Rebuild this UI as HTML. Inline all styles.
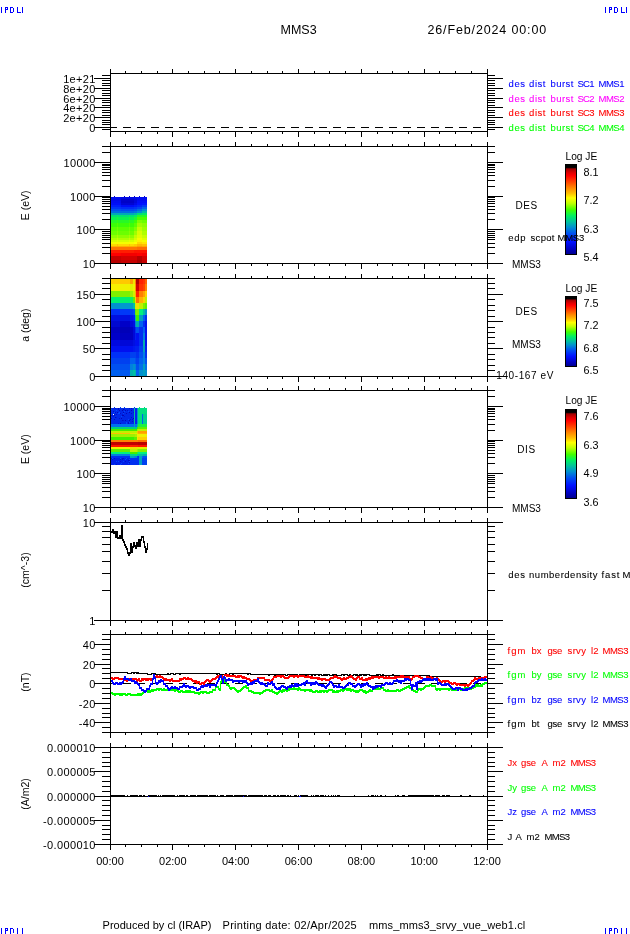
<!DOCTYPE html>
<html><head><meta charset="utf-8"><title>MMS3</title>
<style>html,body{margin:0;padding:0;background:#fff;overflow:hidden}svg{display:block;will-change:transform}text{font-family:"Liberation Sans",sans-serif}</style>
</head><body>
<svg width="630" height="934" viewBox="0 0 630 934" shape-rendering="crispEdges">
<rect x="0" y="0" width="630" height="934" fill="#fff"/>
<rect x="1" y="7" width="1" height="6" fill="#0000ff"/>
<rect x="5" y="7" width="1" height="6" fill="#0000ff"/>
<rect x="5" y="7" width="3" height="1" fill="#0000ff"/>
<rect x="7" y="7" width="1" height="3" fill="#0000ff"/>
<rect x="5" y="9" width="3" height="1" fill="#0000ff"/>
<rect x="10" y="7" width="1" height="6" fill="#0000ff"/>
<rect x="10" y="7" width="3" height="1" fill="#0000ff"/>
<rect x="13" y="8" width="1" height="4" fill="#0000ff"/>
<rect x="10" y="12" width="3" height="1" fill="#0000ff"/>
<rect x="17" y="7" width="1" height="6" fill="#0000ff"/>
<rect x="17" y="12" width="4" height="1" fill="#0000ff"/>
<rect x="22" y="7" width="1" height="6" fill="#0000ff"/>
<rect x="605" y="7" width="1" height="6" fill="#0000ff"/>
<rect x="609" y="7" width="1" height="6" fill="#0000ff"/>
<rect x="609" y="7" width="3" height="1" fill="#0000ff"/>
<rect x="611" y="7" width="1" height="3" fill="#0000ff"/>
<rect x="609" y="9" width="3" height="1" fill="#0000ff"/>
<rect x="614" y="7" width="1" height="6" fill="#0000ff"/>
<rect x="614" y="7" width="3" height="1" fill="#0000ff"/>
<rect x="617" y="8" width="1" height="4" fill="#0000ff"/>
<rect x="614" y="12" width="3" height="1" fill="#0000ff"/>
<rect x="621" y="7" width="1" height="6" fill="#0000ff"/>
<rect x="621" y="12" width="4" height="1" fill="#0000ff"/>
<rect x="626" y="7" width="1" height="6" fill="#0000ff"/>
<rect x="1" y="928" width="1" height="6" fill="#0000ff"/>
<rect x="5" y="928" width="1" height="6" fill="#0000ff"/>
<rect x="5" y="928" width="3" height="1" fill="#0000ff"/>
<rect x="7" y="928" width="1" height="3" fill="#0000ff"/>
<rect x="5" y="930" width="3" height="1" fill="#0000ff"/>
<rect x="10" y="928" width="1" height="6" fill="#0000ff"/>
<rect x="10" y="928" width="3" height="1" fill="#0000ff"/>
<rect x="13" y="929" width="1" height="4" fill="#0000ff"/>
<rect x="17" y="928" width="1" height="6" fill="#0000ff"/>
<rect x="22" y="928" width="1" height="6" fill="#0000ff"/>
<rect x="605" y="928" width="1" height="6" fill="#0000ff"/>
<rect x="609" y="928" width="1" height="6" fill="#0000ff"/>
<rect x="609" y="928" width="3" height="1" fill="#0000ff"/>
<rect x="611" y="928" width="1" height="3" fill="#0000ff"/>
<rect x="609" y="930" width="3" height="1" fill="#0000ff"/>
<rect x="614" y="928" width="1" height="6" fill="#0000ff"/>
<rect x="614" y="928" width="3" height="1" fill="#0000ff"/>
<rect x="617" y="929" width="1" height="4" fill="#0000ff"/>
<rect x="621" y="928" width="1" height="6" fill="#0000ff"/>
<rect x="626" y="928" width="1" height="6" fill="#0000ff"/>
<text x="280.5" y="33.7" font-size="12.5" font-family="&quot;Liberation Sans&quot;, sans-serif" fill="#000" text-anchor="start">MMS3</text>
<text x="427.5" y="33.7" font-size="12.5" font-family="&quot;Liberation Sans&quot;, sans-serif" fill="#000" text-anchor="start" letter-spacing="0.86">26/Feb/2024 00:00</text>
<rect x="111" y="197" width="10" height="2" fill="#000cf0"/>
<rect x="121" y="197" width="13" height="2" fill="#0008e1"/>
<rect x="134" y="197" width="3" height="2" fill="#000ae9"/>
<rect x="137" y="197" width="5" height="2" fill="#000cf0"/>
<rect x="142" y="197" width="5" height="2" fill="#000cf0"/>
<rect x="111" y="199" width="10" height="2" fill="#000ae9"/>
<rect x="121" y="199" width="13" height="2" fill="#0003cb"/>
<rect x="134" y="199" width="3" height="2" fill="#0007da"/>
<rect x="137" y="199" width="5" height="2" fill="#000cf0"/>
<rect x="142" y="199" width="5" height="2" fill="#000cf0"/>
<rect x="111" y="201" width="10" height="2" fill="#000cf0"/>
<rect x="121" y="201" width="13" height="2" fill="#0002c7"/>
<rect x="134" y="201" width="3" height="2" fill="#0007da"/>
<rect x="137" y="201" width="5" height="2" fill="#000ef8"/>
<rect x="142" y="201" width="5" height="2" fill="#000ef8"/>
<rect x="111" y="203" width="10" height="2" fill="#000ef8"/>
<rect x="121" y="203" width="13" height="2" fill="#0005d3"/>
<rect x="134" y="203" width="3" height="2" fill="#000ae9"/>
<rect x="137" y="203" width="5" height="2" fill="#0010ff"/>
<rect x="142" y="203" width="5" height="2" fill="#0017fd"/>
<rect x="111" y="205" width="10" height="2" fill="#001efc"/>
<rect x="121" y="205" width="13" height="2" fill="#000ef8"/>
<rect x="134" y="205" width="3" height="2" fill="#0017fd"/>
<rect x="137" y="205" width="5" height="2" fill="#0025fa"/>
<rect x="142" y="205" width="5" height="2" fill="#003bf5"/>
<rect x="111" y="207" width="10" height="2" fill="#0034f7"/>
<rect x="121" y="207" width="13" height="2" fill="#002cf8"/>
<rect x="134" y="207" width="3" height="2" fill="#0034f7"/>
<rect x="137" y="207" width="5" height="2" fill="#0042f3"/>
<rect x="142" y="207" width="5" height="2" fill="#0062e7"/>
<rect x="111" y="209" width="10" height="2" fill="#0050f0"/>
<rect x="121" y="209" width="13" height="2" fill="#0049f2"/>
<rect x="134" y="209" width="3" height="2" fill="#0050f0"/>
<rect x="137" y="209" width="5" height="2" fill="#006be2"/>
<rect x="142" y="209" width="5" height="2" fill="#0090d0"/>
<rect x="111" y="211" width="10" height="2" fill="#006be2"/>
<rect x="121" y="211" width="13" height="2" fill="#006be2"/>
<rect x="134" y="211" width="3" height="2" fill="#0075de"/>
<rect x="137" y="211" width="5" height="2" fill="#0090d0"/>
<rect x="142" y="211" width="5" height="2" fill="#00b8a8"/>
<rect x="111" y="213" width="10" height="2" fill="#00a8b8"/>
<rect x="121" y="213" width="13" height="2" fill="#00a8b8"/>
<rect x="134" y="213" width="3" height="2" fill="#00b8a8"/>
<rect x="137" y="213" width="5" height="2" fill="#00db7b"/>
<rect x="142" y="213" width="5" height="2" fill="#00e969"/>
<rect x="111" y="215" width="10" height="2" fill="#00e272"/>
<rect x="121" y="215" width="13" height="2" fill="#00e272"/>
<rect x="134" y="215" width="3" height="2" fill="#00f060"/>
<rect x="137" y="215" width="5" height="2" fill="#27f925"/>
<rect x="142" y="215" width="5" height="2" fill="#27f925"/>
<rect x="111" y="217" width="10" height="3" fill="#0af251"/>
<rect x="121" y="217" width="13" height="3" fill="#0af251"/>
<rect x="134" y="217" width="3" height="3" fill="#1ef734"/>
<rect x="137" y="217" width="5" height="3" fill="#49ff00"/>
<rect x="142" y="217" width="5" height="3" fill="#49ff00"/>
<rect x="111" y="220" width="10" height="3" fill="#27f925"/>
<rect x="121" y="220" width="13" height="3" fill="#27f925"/>
<rect x="134" y="220" width="3" height="3" fill="#3bfe07"/>
<rect x="137" y="220" width="5" height="3" fill="#7cff00"/>
<rect x="142" y="220" width="5" height="3" fill="#6bff00"/>
<rect x="111" y="223" width="10" height="4" fill="#3bfe07"/>
<rect x="121" y="223" width="13" height="4" fill="#3bfe07"/>
<rect x="134" y="223" width="3" height="4" fill="#5aff00"/>
<rect x="137" y="223" width="5" height="4" fill="#9eff00"/>
<rect x="142" y="223" width="5" height="4" fill="#8dff00"/>
<rect x="111" y="227" width="10" height="4" fill="#5aff00"/>
<rect x="121" y="227" width="13" height="4" fill="#5aff00"/>
<rect x="134" y="227" width="3" height="4" fill="#7cff00"/>
<rect x="137" y="227" width="5" height="4" fill="#c0ff00"/>
<rect x="142" y="227" width="5" height="4" fill="#9eff00"/>
<rect x="111" y="231" width="10" height="4" fill="#6bff00"/>
<rect x="121" y="231" width="13" height="4" fill="#6bff00"/>
<rect x="134" y="231" width="3" height="4" fill="#9eff00"/>
<rect x="137" y="231" width="5" height="4" fill="#d5ff00"/>
<rect x="142" y="231" width="5" height="4" fill="#afff00"/>
<rect x="111" y="235" width="10" height="3" fill="#8dff00"/>
<rect x="121" y="235" width="13" height="3" fill="#8dff00"/>
<rect x="134" y="235" width="3" height="3" fill="#c0ff00"/>
<rect x="137" y="235" width="5" height="3" fill="#e0ff00"/>
<rect x="142" y="235" width="5" height="3" fill="#caff00"/>
<rect x="111" y="238" width="10" height="2" fill="#afff00"/>
<rect x="121" y="238" width="13" height="2" fill="#afff00"/>
<rect x="134" y="238" width="3" height="2" fill="#d5ff00"/>
<rect x="137" y="238" width="5" height="2" fill="#f4ff00"/>
<rect x="142" y="238" width="5" height="2" fill="#e0ff00"/>
<rect x="111" y="240" width="10" height="2" fill="#d5ff00"/>
<rect x="121" y="240" width="13" height="2" fill="#d5ff00"/>
<rect x="134" y="240" width="3" height="2" fill="#eaff00"/>
<rect x="137" y="240" width="5" height="2" fill="#fff200"/>
<rect x="142" y="240" width="5" height="2" fill="#f4ff00"/>
<rect x="111" y="242" width="10" height="2" fill="#f4ff00"/>
<rect x="121" y="242" width="13" height="2" fill="#f4ff00"/>
<rect x="134" y="242" width="3" height="2" fill="#ffff00"/>
<rect x="137" y="242" width="5" height="2" fill="#ffd900"/>
<rect x="142" y="242" width="5" height="2" fill="#ffe600"/>
<rect x="111" y="244" width="10" height="2" fill="#ffd900"/>
<rect x="121" y="244" width="13" height="2" fill="#ffd900"/>
<rect x="134" y="244" width="3" height="2" fill="#ffcd00"/>
<rect x="137" y="244" width="5" height="2" fill="#ffb700"/>
<rect x="142" y="244" width="5" height="2" fill="#ffc000"/>
<rect x="111" y="246" width="10" height="1" fill="#ffae00"/>
<rect x="121" y="246" width="13" height="1" fill="#ffae00"/>
<rect x="134" y="246" width="3" height="1" fill="#ffae00"/>
<rect x="137" y="246" width="5" height="1" fill="#ff9b00"/>
<rect x="142" y="246" width="5" height="1" fill="#ffa500"/>
<rect x="111" y="247" width="10" height="3" fill="#ff7600"/>
<rect x="121" y="247" width="13" height="3" fill="#ff7600"/>
<rect x="134" y="247" width="3" height="3" fill="#ff7600"/>
<rect x="137" y="247" width="5" height="3" fill="#ff6c00"/>
<rect x="142" y="247" width="5" height="3" fill="#ff6c00"/>
<rect x="111" y="250" width="10" height="3" fill="#ff1d00"/>
<rect x="121" y="250" width="13" height="3" fill="#ff1d00"/>
<rect x="134" y="250" width="3" height="3" fill="#ff1300"/>
<rect x="137" y="250" width="5" height="3" fill="#ff1300"/>
<rect x="142" y="250" width="5" height="3" fill="#ff1300"/>
<rect x="111" y="253" width="10" height="3" fill="#ff0000"/>
<rect x="121" y="253" width="13" height="3" fill="#f50000"/>
<rect x="134" y="253" width="3" height="3" fill="#f50000"/>
<rect x="137" y="253" width="5" height="3" fill="#ff0000"/>
<rect x="142" y="253" width="5" height="3" fill="#f50000"/>
<rect x="111" y="256" width="10" height="4" fill="#c60000"/>
<rect x="121" y="256" width="13" height="4" fill="#d40000"/>
<rect x="134" y="256" width="3" height="4" fill="#d40000"/>
<rect x="137" y="256" width="5" height="4" fill="#b70000"/>
<rect x="142" y="256" width="5" height="4" fill="#d40000"/>
<rect x="111" y="260" width="10" height="3" fill="#b70000"/>
<rect x="121" y="260" width="13" height="3" fill="#c60000"/>
<rect x="134" y="260" width="3" height="3" fill="#c60000"/>
<rect x="137" y="260" width="5" height="3" fill="#a90000"/>
<rect x="142" y="260" width="5" height="3" fill="#c60000"/>
<rect x="117" y="215" width="1" height="2" fill="#00ed65"/>
<rect x="117" y="217" width="1" height="3" fill="#19f63b"/>
<rect x="117" y="220" width="1" height="3" fill="#36fd0f"/>
<rect x="117" y="223" width="1" height="4" fill="#51ff00"/>
<rect x="117" y="227" width="1" height="4" fill="#73ff00"/>
<rect x="117" y="231" width="1" height="4" fill="#84ff00"/>
<rect x="117" y="235" width="1" height="3" fill="#a6ff00"/>
<rect x="117" y="238" width="1" height="2" fill="#c5ff00"/>
<rect x="117" y="240" width="1" height="2" fill="#e5ff00"/>
<rect x="117" y="242" width="1" height="2" fill="#fff900"/>
<rect x="117" y="244" width="1" height="2" fill="#ffc600"/>
<rect x="129" y="215" width="1" height="2" fill="#00ed65"/>
<rect x="129" y="217" width="1" height="3" fill="#19f63b"/>
<rect x="129" y="220" width="1" height="3" fill="#36fd0f"/>
<rect x="129" y="223" width="1" height="4" fill="#51ff00"/>
<rect x="129" y="227" width="1" height="4" fill="#73ff00"/>
<rect x="129" y="231" width="1" height="4" fill="#84ff00"/>
<rect x="129" y="235" width="1" height="3" fill="#a6ff00"/>
<rect x="129" y="238" width="1" height="2" fill="#c5ff00"/>
<rect x="129" y="240" width="1" height="2" fill="#e5ff00"/>
<rect x="129" y="242" width="1" height="2" fill="#fff900"/>
<rect x="129" y="244" width="1" height="2" fill="#ffc600"/>
<rect x="114" y="196" width="1" height="1" fill="#0000d0"/>
<rect x="124" y="196" width="1" height="1" fill="#0000d0"/>
<rect x="129" y="196" width="1" height="1" fill="#0000d0"/>
<rect x="134" y="196" width="1" height="1" fill="#0000d0"/>
<rect x="139" y="196" width="1" height="1" fill="#0000d0"/>
<rect x="144" y="196" width="1" height="1" fill="#0000d0"/>
<rect x="111" y="279" width="9" height="5" fill="#ffd000"/>
<rect x="120" y="279" width="10" height="5" fill="#ffc800"/>
<rect x="130" y="279" width="3" height="5" fill="#ffa000"/>
<rect x="133" y="279" width="2" height="5" fill="#f0e000"/>
<rect x="135" y="279" width="1" height="5" fill="#ff8000"/>
<rect x="136" y="279" width="3" height="5" fill="#b00000"/>
<rect x="139" y="279" width="4" height="5" fill="#ff2000"/>
<rect x="143" y="279" width="2" height="5" fill="#ff3000"/>
<rect x="145" y="279" width="2" height="5" fill="#ff6000"/>
<rect x="111" y="284" width="9" height="7" fill="#f8f000"/>
<rect x="120" y="284" width="10" height="7" fill="#f0f000"/>
<rect x="130" y="284" width="3" height="7" fill="#e0f000"/>
<rect x="133" y="284" width="2" height="7" fill="#f0f000"/>
<rect x="135" y="284" width="1" height="7" fill="#ff9000"/>
<rect x="136" y="284" width="3" height="7" fill="#d00000"/>
<rect x="139" y="284" width="4" height="7" fill="#ff3000"/>
<rect x="143" y="284" width="2" height="7" fill="#ff4000"/>
<rect x="145" y="284" width="2" height="7" fill="#ff8000"/>
<rect x="111" y="291" width="9" height="6" fill="#80f000"/>
<rect x="120" y="291" width="10" height="6" fill="#80f000"/>
<rect x="130" y="291" width="3" height="6" fill="#a0f000"/>
<rect x="133" y="291" width="2" height="6" fill="#d0f000"/>
<rect x="135" y="291" width="1" height="6" fill="#ffb000"/>
<rect x="136" y="291" width="3" height="6" fill="#ff2000"/>
<rect x="139" y="291" width="4" height="6" fill="#ff8000"/>
<rect x="143" y="291" width="2" height="6" fill="#ffa000"/>
<rect x="145" y="291" width="2" height="6" fill="#ffd000"/>
<rect x="111" y="297" width="9" height="6" fill="#00f070"/>
<rect x="120" y="297" width="10" height="6" fill="#00f070"/>
<rect x="130" y="297" width="3" height="6" fill="#10f060"/>
<rect x="133" y="297" width="2" height="6" fill="#60f000"/>
<rect x="135" y="297" width="1" height="6" fill="#ffd000"/>
<rect x="136" y="297" width="3" height="6" fill="#ff7000"/>
<rect x="139" y="297" width="4" height="6" fill="#ffb000"/>
<rect x="143" y="297" width="2" height="6" fill="#ffd000"/>
<rect x="145" y="297" width="2" height="6" fill="#c0f000"/>
<rect x="111" y="303" width="9" height="6" fill="#0090d0"/>
<rect x="120" y="303" width="10" height="6" fill="#0098d0"/>
<rect x="130" y="303" width="3" height="6" fill="#00a0c0"/>
<rect x="133" y="303" width="2" height="6" fill="#00c0a0"/>
<rect x="135" y="303" width="1" height="6" fill="#d0f000"/>
<rect x="136" y="303" width="3" height="6" fill="#f0e000"/>
<rect x="139" y="303" width="4" height="6" fill="#c0f000"/>
<rect x="143" y="303" width="2" height="6" fill="#80f000"/>
<rect x="145" y="303" width="2" height="6" fill="#60f000"/>
<rect x="111" y="309" width="9" height="6" fill="#0030f8"/>
<rect x="120" y="309" width="10" height="6" fill="#0038f8"/>
<rect x="130" y="309" width="3" height="6" fill="#0040f0"/>
<rect x="133" y="309" width="2" height="6" fill="#0050f0"/>
<rect x="135" y="309" width="1" height="6" fill="#60f000"/>
<rect x="136" y="309" width="3" height="6" fill="#80f000"/>
<rect x="139" y="309" width="4" height="6" fill="#00f080"/>
<rect x="143" y="309" width="2" height="6" fill="#00c0a0"/>
<rect x="145" y="309" width="2" height="6" fill="#0090d0"/>
<rect x="111" y="315" width="9" height="6" fill="#0010e0"/>
<rect x="120" y="315" width="10" height="6" fill="#0010e0"/>
<rect x="130" y="315" width="3" height="6" fill="#0018e8"/>
<rect x="133" y="315" width="2" height="6" fill="#0020f0"/>
<rect x="135" y="315" width="1" height="6" fill="#00c0a0"/>
<rect x="136" y="315" width="3" height="6" fill="#40f000"/>
<rect x="139" y="315" width="4" height="6" fill="#00a0c0"/>
<rect x="143" y="315" width="2" height="6" fill="#0060f0"/>
<rect x="145" y="315" width="2" height="6" fill="#0030f0"/>
<rect x="111" y="321" width="9" height="6" fill="#0008d0"/>
<rect x="120" y="321" width="10" height="6" fill="#0000c8"/>
<rect x="130" y="321" width="3" height="6" fill="#0008d8"/>
<rect x="133" y="321" width="2" height="6" fill="#0010e0"/>
<rect x="135" y="321" width="1" height="6" fill="#0080e0"/>
<rect x="136" y="321" width="3" height="6" fill="#00b0b0"/>
<rect x="139" y="321" width="4" height="6" fill="#0060f0"/>
<rect x="143" y="321" width="2" height="6" fill="#0030f0"/>
<rect x="145" y="321" width="2" height="6" fill="#0010f0"/>
<rect x="111" y="327" width="9" height="6" fill="#0000c0"/>
<rect x="120" y="327" width="10" height="6" fill="#0000b8"/>
<rect x="130" y="327" width="3" height="6" fill="#0000c0"/>
<rect x="133" y="327" width="2" height="6" fill="#0008d8"/>
<rect x="135" y="327" width="1" height="6" fill="#0030f0"/>
<rect x="136" y="327" width="3" height="6" fill="#0050f0"/>
<rect x="139" y="327" width="4" height="6" fill="#0030f0"/>
<rect x="143" y="327" width="2" height="6" fill="#0060f0"/>
<rect x="145" y="327" width="2" height="6" fill="#0010f0"/>
<rect x="111" y="333" width="9" height="7" fill="#0000c8"/>
<rect x="120" y="333" width="10" height="7" fill="#0000c0"/>
<rect x="130" y="333" width="3" height="7" fill="#0000c0"/>
<rect x="133" y="333" width="2" height="7" fill="#0008d8"/>
<rect x="135" y="333" width="1" height="7" fill="#0020f0"/>
<rect x="136" y="333" width="3" height="7" fill="#0010f0"/>
<rect x="139" y="333" width="4" height="7" fill="#0030f0"/>
<rect x="143" y="333" width="2" height="7" fill="#0080e0"/>
<rect x="145" y="333" width="2" height="7" fill="#0010f0"/>
<rect x="111" y="340" width="9" height="6" fill="#0008e0"/>
<rect x="120" y="340" width="10" height="6" fill="#0008d8"/>
<rect x="130" y="340" width="3" height="6" fill="#0008d8"/>
<rect x="133" y="340" width="2" height="6" fill="#0010e0"/>
<rect x="135" y="340" width="1" height="6" fill="#0010f0"/>
<rect x="136" y="340" width="3" height="6" fill="#0010f0"/>
<rect x="139" y="340" width="4" height="6" fill="#0030f0"/>
<rect x="143" y="340" width="2" height="6" fill="#00b0b0"/>
<rect x="145" y="340" width="2" height="6" fill="#0010f0"/>
<rect x="111" y="346" width="9" height="6" fill="#0010f0"/>
<rect x="120" y="346" width="10" height="6" fill="#0010f0"/>
<rect x="130" y="346" width="3" height="6" fill="#0010f0"/>
<rect x="133" y="346" width="2" height="6" fill="#0018f0"/>
<rect x="135" y="346" width="1" height="6" fill="#0020f0"/>
<rect x="136" y="346" width="3" height="6" fill="#0020f0"/>
<rect x="139" y="346" width="4" height="6" fill="#0040f0"/>
<rect x="143" y="346" width="2" height="6" fill="#00a0c0"/>
<rect x="145" y="346" width="2" height="6" fill="#0020f0"/>
<rect x="111" y="352" width="9" height="6" fill="#0030f8"/>
<rect x="120" y="352" width="10" height="6" fill="#0030f8"/>
<rect x="130" y="352" width="3" height="6" fill="#0040f0"/>
<rect x="133" y="352" width="2" height="6" fill="#0040f0"/>
<rect x="135" y="352" width="1" height="6" fill="#0040f0"/>
<rect x="136" y="352" width="3" height="6" fill="#0030f0"/>
<rect x="139" y="352" width="4" height="6" fill="#0050f0"/>
<rect x="143" y="352" width="2" height="6" fill="#0080e0"/>
<rect x="145" y="352" width="2" height="6" fill="#0030f0"/>
<rect x="111" y="358" width="9" height="6" fill="#0040f0"/>
<rect x="120" y="358" width="10" height="6" fill="#0040f0"/>
<rect x="130" y="358" width="3" height="6" fill="#0060f0"/>
<rect x="133" y="358" width="2" height="6" fill="#0060f0"/>
<rect x="135" y="358" width="1" height="6" fill="#0050f0"/>
<rect x="136" y="358" width="3" height="6" fill="#0040f0"/>
<rect x="139" y="358" width="4" height="6" fill="#0060f0"/>
<rect x="143" y="358" width="2" height="6" fill="#0080e0"/>
<rect x="145" y="358" width="2" height="6" fill="#0050f0"/>
<rect x="111" y="364" width="9" height="6" fill="#0050f0"/>
<rect x="120" y="364" width="10" height="6" fill="#0050f0"/>
<rect x="130" y="364" width="3" height="6" fill="#0080e0"/>
<rect x="133" y="364" width="2" height="6" fill="#0090d0"/>
<rect x="135" y="364" width="1" height="6" fill="#0080e0"/>
<rect x="136" y="364" width="3" height="6" fill="#0050f0"/>
<rect x="139" y="364" width="4" height="6" fill="#0070e8"/>
<rect x="143" y="364" width="2" height="6" fill="#00a0c0"/>
<rect x="145" y="364" width="2" height="6" fill="#0070e8"/>
<rect x="111" y="370" width="9" height="6" fill="#0060f0"/>
<rect x="120" y="370" width="10" height="6" fill="#0058f0"/>
<rect x="130" y="370" width="3" height="6" fill="#00b0b0"/>
<rect x="133" y="370" width="2" height="6" fill="#00c0a0"/>
<rect x="135" y="370" width="1" height="6" fill="#00b0b0"/>
<rect x="136" y="370" width="3" height="6" fill="#0060f0"/>
<rect x="139" y="370" width="4" height="6" fill="#0090d0"/>
<rect x="143" y="370" width="2" height="6" fill="#00a0c0"/>
<rect x="145" y="370" width="2" height="6" fill="#0090d0"/>
<rect x="111" y="408" width="19" height="6" fill="#0028e8"/>
<rect x="130" y="408" width="4" height="6" fill="#0028e8"/>
<rect x="134" y="408" width="1" height="6" fill="#00c0a0"/>
<rect x="135" y="408" width="2" height="6" fill="#0020f0"/>
<rect x="137" y="408" width="1" height="6" fill="#0090d0"/>
<rect x="138" y="408" width="4" height="6" fill="#00e080"/>
<rect x="142" y="408" width="1" height="6" fill="#00e080"/>
<rect x="143" y="408" width="4" height="6" fill="#00e080"/>
<rect x="111" y="414" width="19" height="10" fill="#0028e8"/>
<rect x="130" y="414" width="4" height="10" fill="#0028e8"/>
<rect x="134" y="414" width="1" height="10" fill="#00c0a0"/>
<rect x="135" y="414" width="2" height="10" fill="#0020f0"/>
<rect x="137" y="414" width="1" height="10" fill="#0090d0"/>
<rect x="138" y="414" width="4" height="10" fill="#00e080"/>
<rect x="142" y="414" width="1" height="10" fill="#0060f0"/>
<rect x="143" y="414" width="4" height="10" fill="#00d090"/>
<rect x="111" y="424" width="19" height="3" fill="#0070f0"/>
<rect x="130" y="424" width="4" height="3" fill="#0070f0"/>
<rect x="134" y="424" width="1" height="3" fill="#00a0c0"/>
<rect x="135" y="424" width="2" height="3" fill="#0070f0"/>
<rect x="137" y="424" width="1" height="3" fill="#00c0a0"/>
<rect x="138" y="424" width="4" height="3" fill="#20f040"/>
<rect x="142" y="424" width="1" height="3" fill="#20f040"/>
<rect x="143" y="424" width="4" height="3" fill="#20f040"/>
<rect x="111" y="427" width="19" height="2" fill="#00d080"/>
<rect x="130" y="427" width="4" height="2" fill="#00d080"/>
<rect x="134" y="427" width="1" height="2" fill="#00d080"/>
<rect x="135" y="427" width="2" height="2" fill="#00c0a0"/>
<rect x="137" y="427" width="1" height="2" fill="#40f000"/>
<rect x="138" y="427" width="4" height="2" fill="#60f000"/>
<rect x="142" y="427" width="1" height="2" fill="#60f000"/>
<rect x="143" y="427" width="4" height="2" fill="#60f000"/>
<rect x="111" y="429" width="19" height="2" fill="#40f000"/>
<rect x="130" y="429" width="4" height="2" fill="#40f000"/>
<rect x="134" y="429" width="1" height="2" fill="#40f000"/>
<rect x="135" y="429" width="2" height="2" fill="#40f000"/>
<rect x="137" y="429" width="1" height="2" fill="#a0f000"/>
<rect x="138" y="429" width="4" height="2" fill="#c0f000"/>
<rect x="142" y="429" width="1" height="2" fill="#c0f000"/>
<rect x="143" y="429" width="4" height="2" fill="#c0f000"/>
<rect x="111" y="431" width="19" height="2" fill="#c0f000"/>
<rect x="130" y="431" width="4" height="2" fill="#c0f000"/>
<rect x="134" y="431" width="1" height="2" fill="#c0f000"/>
<rect x="135" y="431" width="2" height="2" fill="#c0f000"/>
<rect x="137" y="431" width="1" height="2" fill="#ffc000"/>
<rect x="138" y="431" width="4" height="2" fill="#ffa000"/>
<rect x="142" y="431" width="1" height="2" fill="#ffa000"/>
<rect x="143" y="431" width="4" height="2" fill="#ffa000"/>
<rect x="111" y="433" width="19" height="1" fill="#ffc000"/>
<rect x="130" y="433" width="4" height="1" fill="#f0e000"/>
<rect x="134" y="433" width="1" height="1" fill="#e0f000"/>
<rect x="135" y="433" width="2" height="1" fill="#e0f000"/>
<rect x="137" y="433" width="1" height="1" fill="#ffd000"/>
<rect x="138" y="433" width="4" height="1" fill="#ffb000"/>
<rect x="142" y="433" width="1" height="1" fill="#ffb000"/>
<rect x="143" y="433" width="4" height="1" fill="#ffb000"/>
<rect x="111" y="434" width="19" height="3" fill="#a0f000"/>
<rect x="130" y="434" width="4" height="3" fill="#a0f000"/>
<rect x="134" y="434" width="1" height="3" fill="#a0f000"/>
<rect x="135" y="434" width="2" height="3" fill="#b0f000"/>
<rect x="137" y="434" width="1" height="3" fill="#f0f000"/>
<rect x="138" y="434" width="4" height="3" fill="#f0f000"/>
<rect x="142" y="434" width="1" height="3" fill="#f0f000"/>
<rect x="143" y="434" width="4" height="3" fill="#f0f000"/>
<rect x="111" y="437" width="19" height="3" fill="#40f000"/>
<rect x="130" y="437" width="4" height="3" fill="#40f000"/>
<rect x="134" y="437" width="1" height="3" fill="#60f000"/>
<rect x="135" y="437" width="2" height="3" fill="#60f000"/>
<rect x="137" y="437" width="1" height="3" fill="#ffe000"/>
<rect x="138" y="437" width="4" height="3" fill="#ffd000"/>
<rect x="142" y="437" width="1" height="3" fill="#ffd000"/>
<rect x="143" y="437" width="4" height="3" fill="#ffd000"/>
<rect x="111" y="440" width="19" height="2" fill="#ff8000"/>
<rect x="130" y="440" width="4" height="2" fill="#ff8000"/>
<rect x="134" y="440" width="1" height="2" fill="#ff8000"/>
<rect x="135" y="440" width="2" height="2" fill="#ff8000"/>
<rect x="137" y="440" width="1" height="2" fill="#ff8000"/>
<rect x="138" y="440" width="4" height="2" fill="#ff7000"/>
<rect x="142" y="440" width="1" height="2" fill="#ff7000"/>
<rect x="143" y="440" width="4" height="2" fill="#ff7000"/>
<rect x="111" y="442" width="19" height="3" fill="#c00000"/>
<rect x="130" y="442" width="4" height="3" fill="#c00000"/>
<rect x="134" y="442" width="1" height="3" fill="#c00000"/>
<rect x="135" y="442" width="2" height="3" fill="#c00000"/>
<rect x="137" y="442" width="1" height="3" fill="#c00000"/>
<rect x="138" y="442" width="4" height="3" fill="#b80000"/>
<rect x="142" y="442" width="1" height="3" fill="#b80000"/>
<rect x="143" y="442" width="4" height="3" fill="#b80000"/>
<rect x="111" y="445" width="19" height="2" fill="#ff1000"/>
<rect x="130" y="445" width="4" height="2" fill="#ff2000"/>
<rect x="134" y="445" width="1" height="2" fill="#ff2000"/>
<rect x="135" y="445" width="2" height="2" fill="#ff2000"/>
<rect x="137" y="445" width="1" height="2" fill="#ff2000"/>
<rect x="138" y="445" width="4" height="2" fill="#ff1000"/>
<rect x="142" y="445" width="1" height="2" fill="#ff1000"/>
<rect x="143" y="445" width="4" height="2" fill="#ff1000"/>
<rect x="111" y="447" width="19" height="2" fill="#f0f000"/>
<rect x="130" y="447" width="4" height="2" fill="#f0e000"/>
<rect x="134" y="447" width="1" height="2" fill="#f0e000"/>
<rect x="135" y="447" width="2" height="2" fill="#f0e000"/>
<rect x="137" y="447" width="1" height="2" fill="#e0f000"/>
<rect x="138" y="447" width="4" height="2" fill="#e0f000"/>
<rect x="142" y="447" width="1" height="2" fill="#e0f000"/>
<rect x="143" y="447" width="4" height="2" fill="#e0f000"/>
<rect x="111" y="449" width="19" height="3" fill="#60f000"/>
<rect x="130" y="449" width="4" height="3" fill="#c0f000"/>
<rect x="134" y="449" width="1" height="3" fill="#c0f000"/>
<rect x="135" y="449" width="2" height="3" fill="#c0f000"/>
<rect x="137" y="449" width="1" height="3" fill="#a0f000"/>
<rect x="138" y="449" width="4" height="3" fill="#80f000"/>
<rect x="142" y="449" width="1" height="3" fill="#80f000"/>
<rect x="143" y="449" width="4" height="3" fill="#80f000"/>
<rect x="111" y="452" width="19" height="2" fill="#00f080"/>
<rect x="130" y="452" width="4" height="2" fill="#40f000"/>
<rect x="134" y="452" width="1" height="2" fill="#40f000"/>
<rect x="135" y="452" width="2" height="2" fill="#40f000"/>
<rect x="137" y="452" width="1" height="2" fill="#20f040"/>
<rect x="138" y="452" width="4" height="2" fill="#00f080"/>
<rect x="142" y="452" width="1" height="2" fill="#00f080"/>
<rect x="143" y="452" width="4" height="2" fill="#00f080"/>
<rect x="111" y="454" width="19" height="2" fill="#0080e0"/>
<rect x="130" y="454" width="4" height="2" fill="#00d090"/>
<rect x="134" y="454" width="1" height="2" fill="#00d090"/>
<rect x="135" y="454" width="2" height="2" fill="#00e070"/>
<rect x="137" y="454" width="1" height="2" fill="#00c0a0"/>
<rect x="138" y="454" width="4" height="2" fill="#00c0a0"/>
<rect x="142" y="454" width="1" height="2" fill="#00c0a0"/>
<rect x="143" y="454" width="4" height="2" fill="#00b0b0"/>
<rect x="111" y="456" width="19" height="2" fill="#0030f0"/>
<rect x="130" y="456" width="4" height="2" fill="#00a0c0"/>
<rect x="134" y="456" width="1" height="2" fill="#0090d0"/>
<rect x="135" y="456" width="2" height="2" fill="#0080e0"/>
<rect x="137" y="456" width="1" height="2" fill="#0040f0"/>
<rect x="138" y="456" width="4" height="2" fill="#00a0c0"/>
<rect x="142" y="456" width="1" height="2" fill="#0060f0"/>
<rect x="143" y="456" width="4" height="2" fill="#0050f0"/>
<rect x="111" y="458" width="19" height="7" fill="#0020e8"/>
<rect x="130" y="458" width="4" height="7" fill="#0030f0"/>
<rect x="134" y="458" width="1" height="7" fill="#0030f0"/>
<rect x="135" y="458" width="2" height="7" fill="#0030f0"/>
<rect x="137" y="458" width="1" height="7" fill="#0030f0"/>
<rect x="138" y="458" width="4" height="7" fill="#00a0c0"/>
<rect x="142" y="458" width="1" height="7" fill="#0040f0"/>
<rect x="143" y="458" width="4" height="7" fill="#0040f0"/>
<rect x="138" y="456" width="1" height="9" fill="#0030f0"/>
<rect x="124" y="411" width="1" height="1" fill="#0048ff"/>
<rect x="123" y="415" width="1" height="1" fill="#0008b8"/>
<rect x="111" y="415" width="1" height="1" fill="#0010c8"/>
<rect x="129" y="408" width="1" height="1" fill="#0010c8"/>
<rect x="116" y="417" width="1" height="1" fill="#0018d8"/>
<rect x="129" y="420" width="1" height="1" fill="#0008b8"/>
<rect x="122" y="410" width="1" height="1" fill="#0008b8"/>
<rect x="120" y="413" width="1" height="1" fill="#0010c8"/>
<rect x="127" y="410" width="1" height="1" fill="#0010c8"/>
<rect x="119" y="418" width="1" height="1" fill="#0010c8"/>
<rect x="131" y="417" width="1" height="1" fill="#0010c8"/>
<rect x="122" y="420" width="1" height="1" fill="#0010c8"/>
<rect x="126" y="423" width="1" height="1" fill="#0048ff"/>
<rect x="117" y="412" width="1" height="1" fill="#0008b8"/>
<rect x="118" y="409" width="1" height="1" fill="#0010c8"/>
<rect x="132" y="421" width="1" height="1" fill="#0010c8"/>
<rect x="133" y="418" width="1" height="1" fill="#0008b8"/>
<rect x="126" y="422" width="1" height="1" fill="#0048ff"/>
<rect x="118" y="423" width="1" height="1" fill="#0018d8"/>
<rect x="132" y="419" width="1" height="1" fill="#0010c8"/>
<rect x="119" y="413" width="1" height="1" fill="#0010c8"/>
<rect x="118" y="408" width="1" height="1" fill="#0008b8"/>
<rect x="122" y="414" width="1" height="1" fill="#0018d8"/>
<rect x="114" y="419" width="1" height="1" fill="#0008b8"/>
<rect x="114" y="415" width="1" height="1" fill="#0010c8"/>
<rect x="124" y="409" width="1" height="1" fill="#0018d8"/>
<rect x="114" y="412" width="1" height="1" fill="#0048ff"/>
<rect x="131" y="408" width="1" height="1" fill="#0008b8"/>
<rect x="131" y="410" width="1" height="1" fill="#0008b8"/>
<rect x="113" y="408" width="1" height="1" fill="#0018d8"/>
<rect x="119" y="413" width="1" height="1" fill="#0048ff"/>
<rect x="112" y="416" width="1" height="1" fill="#0018d8"/>
<rect x="119" y="410" width="1" height="1" fill="#0008b8"/>
<rect x="128" y="423" width="1" height="1" fill="#0010c8"/>
<rect x="120" y="423" width="1" height="1" fill="#0008b8"/>
<rect x="123" y="420" width="1" height="1" fill="#0008b8"/>
<rect x="128" y="422" width="1" height="1" fill="#0010c8"/>
<rect x="121" y="416" width="1" height="1" fill="#0048ff"/>
<rect x="115" y="412" width="1" height="1" fill="#0010c8"/>
<rect x="125" y="420" width="1" height="1" fill="#0008b8"/>
<rect x="125" y="410" width="1" height="1" fill="#0008b8"/>
<rect x="129" y="412" width="1" height="1" fill="#0008b8"/>
<rect x="128" y="419" width="1" height="1" fill="#0048ff"/>
<rect x="112" y="415" width="1" height="1" fill="#0018d8"/>
<rect x="113" y="416" width="1" height="1" fill="#0018d8"/>
<rect x="133" y="412" width="1" height="1" fill="#0018d8"/>
<rect x="119" y="412" width="1" height="1" fill="#0048ff"/>
<rect x="130" y="419" width="1" height="1" fill="#0010c8"/>
<rect x="121" y="418" width="1" height="1" fill="#0018d8"/>
<rect x="115" y="408" width="1" height="1" fill="#0010c8"/>
<rect x="123" y="420" width="1" height="1" fill="#0018d8"/>
<rect x="129" y="422" width="1" height="1" fill="#0048ff"/>
<rect x="118" y="413" width="1" height="1" fill="#0048ff"/>
<rect x="111" y="418" width="1" height="1" fill="#0008b8"/>
<rect x="111" y="414" width="1" height="1" fill="#0048ff"/>
<rect x="116" y="414" width="1" height="1" fill="#0010c8"/>
<rect x="113" y="411" width="1" height="1" fill="#0010c8"/>
<rect x="123" y="409" width="1" height="1" fill="#0008b8"/>
<rect x="123" y="412" width="1" height="1" fill="#0008b8"/>
<rect x="131" y="413" width="1" height="1" fill="#0010c8"/>
<rect x="121" y="418" width="1" height="1" fill="#0008b8"/>
<rect x="111" y="409" width="1" height="1" fill="#0048ff"/>
<rect x="114" y="414" width="1" height="1" fill="#0010c8"/>
<rect x="116" y="410" width="1" height="1" fill="#0048ff"/>
<rect x="128" y="411" width="1" height="1" fill="#0048ff"/>
<rect x="124" y="416" width="1" height="1" fill="#0018d8"/>
<rect x="122" y="415" width="1" height="1" fill="#0008b8"/>
<rect x="115" y="417" width="1" height="1" fill="#0008b8"/>
<rect x="123" y="413" width="1" height="1" fill="#0048ff"/>
<rect x="126" y="413" width="1" height="1" fill="#0008b8"/>
<rect x="125" y="461" width="1" height="1" fill="#0048ff"/>
<rect x="120" y="464" width="1" height="1" fill="#0048ff"/>
<rect x="129" y="461" width="1" height="1" fill="#0048ff"/>
<rect x="123" y="461" width="1" height="1" fill="#0048ff"/>
<rect x="114" y="464" width="1" height="1" fill="#0048ff"/>
<rect x="129" y="459" width="1" height="1" fill="#0048ff"/>
<rect x="118" y="461" width="1" height="1" fill="#0010c8"/>
<rect x="122" y="458" width="1" height="1" fill="#0048ff"/>
<rect x="118" y="461" width="1" height="1" fill="#0048ff"/>
<rect x="120" y="458" width="1" height="1" fill="#0048ff"/>
<rect x="128" y="463" width="1" height="1" fill="#0048ff"/>
<rect x="114" y="458" width="1" height="1" fill="#0010c8"/>
<rect x="128" y="460" width="1" height="1" fill="#0010c8"/>
<rect x="116" y="464" width="1" height="1" fill="#0010c8"/>
<rect x="121" y="463" width="1" height="1" fill="#0048ff"/>
<rect x="125" y="461" width="1" height="1" fill="#0010c8"/>
<rect x="129" y="462" width="1" height="1" fill="#0010c8"/>
<rect x="120" y="459" width="1" height="1" fill="#0010c8"/>
<rect x="129" y="460" width="1" height="1" fill="#0010c8"/>
<rect x="122" y="459" width="1" height="1" fill="#0010c8"/>
<rect x="126" y="458" width="1" height="1" fill="#0010c8"/>
<rect x="120" y="461" width="1" height="1" fill="#0010c8"/>
<rect x="116" y="461" width="1" height="1" fill="#0048ff"/>
<rect x="112" y="459" width="1" height="1" fill="#0010c8"/>
<rect x="122" y="458" width="1" height="1" fill="#0010c8"/>
<rect x="112" y="458" width="1" height="1" fill="#0048ff"/>
<rect x="126" y="458" width="1" height="1" fill="#0048ff"/>
<rect x="125" y="459" width="1" height="1" fill="#0048ff"/>
<rect x="111" y="458" width="1" height="1" fill="#0010c8"/>
<rect x="123" y="458" width="1" height="1" fill="#0010c8"/>
<rect x="113" y="414" width="1" height="1" fill="#ffffff"/>
<rect x="114" y="407" width="1" height="1" fill="#0040f0"/>
<rect x="120" y="407" width="1" height="1" fill="#0040f0"/>
<rect x="124" y="407" width="1" height="1" fill="#0040f0"/>
<rect x="134" y="407" width="1" height="1" fill="#0040f0"/>
<rect x="139" y="407" width="1" height="1" fill="#00e080"/>
<rect x="144" y="407" width="1" height="1" fill="#00e080"/>
<rect x="110" y="73" width="378" height="1" fill="#000"/>
<rect x="110" y="131" width="378" height="1" fill="#000"/>
<rect x="110" y="73" width="1" height="59" fill="#000"/>
<rect x="487" y="73" width="1" height="59" fill="#000"/>
<rect x="110" y="69" width="1" height="4" fill="#000"/>
<rect x="110" y="132" width="1" height="5" fill="#000"/>
<rect x="125" y="71" width="1" height="2" fill="#000"/>
<rect x="125" y="132" width="1" height="2" fill="#000"/>
<rect x="141" y="71" width="1" height="2" fill="#000"/>
<rect x="141" y="132" width="1" height="2" fill="#000"/>
<rect x="157" y="71" width="1" height="2" fill="#000"/>
<rect x="157" y="132" width="1" height="2" fill="#000"/>
<rect x="172" y="69" width="1" height="4" fill="#000"/>
<rect x="172" y="132" width="1" height="5" fill="#000"/>
<rect x="188" y="71" width="1" height="2" fill="#000"/>
<rect x="188" y="132" width="1" height="2" fill="#000"/>
<rect x="204" y="71" width="1" height="2" fill="#000"/>
<rect x="204" y="132" width="1" height="2" fill="#000"/>
<rect x="219" y="71" width="1" height="2" fill="#000"/>
<rect x="219" y="132" width="1" height="2" fill="#000"/>
<rect x="235" y="69" width="1" height="4" fill="#000"/>
<rect x="235" y="132" width="1" height="5" fill="#000"/>
<rect x="251" y="71" width="1" height="2" fill="#000"/>
<rect x="251" y="132" width="1" height="2" fill="#000"/>
<rect x="267" y="71" width="1" height="2" fill="#000"/>
<rect x="267" y="132" width="1" height="2" fill="#000"/>
<rect x="282" y="71" width="1" height="2" fill="#000"/>
<rect x="282" y="132" width="1" height="2" fill="#000"/>
<rect x="298" y="69" width="1" height="4" fill="#000"/>
<rect x="298" y="132" width="1" height="5" fill="#000"/>
<rect x="314" y="71" width="1" height="2" fill="#000"/>
<rect x="314" y="132" width="1" height="2" fill="#000"/>
<rect x="329" y="71" width="1" height="2" fill="#000"/>
<rect x="329" y="132" width="1" height="2" fill="#000"/>
<rect x="345" y="71" width="1" height="2" fill="#000"/>
<rect x="345" y="132" width="1" height="2" fill="#000"/>
<rect x="361" y="69" width="1" height="4" fill="#000"/>
<rect x="361" y="132" width="1" height="5" fill="#000"/>
<rect x="377" y="71" width="1" height="2" fill="#000"/>
<rect x="377" y="132" width="1" height="2" fill="#000"/>
<rect x="392" y="71" width="1" height="2" fill="#000"/>
<rect x="392" y="132" width="1" height="2" fill="#000"/>
<rect x="408" y="71" width="1" height="2" fill="#000"/>
<rect x="408" y="132" width="1" height="2" fill="#000"/>
<rect x="424" y="69" width="1" height="4" fill="#000"/>
<rect x="424" y="132" width="1" height="5" fill="#000"/>
<rect x="439" y="71" width="1" height="2" fill="#000"/>
<rect x="439" y="132" width="1" height="2" fill="#000"/>
<rect x="455" y="71" width="1" height="2" fill="#000"/>
<rect x="455" y="132" width="1" height="2" fill="#000"/>
<rect x="471" y="71" width="1" height="2" fill="#000"/>
<rect x="471" y="132" width="1" height="2" fill="#000"/>
<rect x="487" y="69" width="1" height="4" fill="#000"/>
<rect x="487" y="132" width="1" height="5" fill="#000"/>
<rect x="102" y="129" width="8" height="1" fill="#000"/>
<rect x="488" y="129" width="7" height="1" fill="#000"/>
<rect x="102" y="127" width="8" height="1" fill="#000"/>
<rect x="488" y="127" width="7" height="1" fill="#000"/>
<rect x="102" y="124" width="8" height="1" fill="#000"/>
<rect x="488" y="124" width="7" height="1" fill="#000"/>
<rect x="102" y="122" width="8" height="1" fill="#000"/>
<rect x="488" y="122" width="7" height="1" fill="#000"/>
<rect x="102" y="120" width="8" height="1" fill="#000"/>
<rect x="488" y="120" width="7" height="1" fill="#000"/>
<rect x="102" y="117" width="8" height="1" fill="#000"/>
<rect x="488" y="117" width="7" height="1" fill="#000"/>
<rect x="102" y="115" width="8" height="1" fill="#000"/>
<rect x="488" y="115" width="7" height="1" fill="#000"/>
<rect x="102" y="112" width="8" height="1" fill="#000"/>
<rect x="488" y="112" width="7" height="1" fill="#000"/>
<rect x="102" y="110" width="8" height="1" fill="#000"/>
<rect x="488" y="110" width="7" height="1" fill="#000"/>
<rect x="102" y="107" width="8" height="1" fill="#000"/>
<rect x="488" y="107" width="7" height="1" fill="#000"/>
<rect x="102" y="105" width="8" height="1" fill="#000"/>
<rect x="488" y="105" width="7" height="1" fill="#000"/>
<rect x="102" y="102" width="8" height="1" fill="#000"/>
<rect x="488" y="102" width="7" height="1" fill="#000"/>
<rect x="102" y="100" width="8" height="1" fill="#000"/>
<rect x="488" y="100" width="7" height="1" fill="#000"/>
<rect x="102" y="98" width="8" height="1" fill="#000"/>
<rect x="488" y="98" width="7" height="1" fill="#000"/>
<rect x="102" y="95" width="8" height="1" fill="#000"/>
<rect x="488" y="95" width="7" height="1" fill="#000"/>
<rect x="102" y="93" width="8" height="1" fill="#000"/>
<rect x="488" y="93" width="7" height="1" fill="#000"/>
<rect x="102" y="90" width="8" height="1" fill="#000"/>
<rect x="488" y="90" width="7" height="1" fill="#000"/>
<rect x="102" y="88" width="8" height="1" fill="#000"/>
<rect x="488" y="88" width="7" height="1" fill="#000"/>
<rect x="102" y="85" width="8" height="1" fill="#000"/>
<rect x="488" y="85" width="7" height="1" fill="#000"/>
<rect x="102" y="83" width="8" height="1" fill="#000"/>
<rect x="488" y="83" width="7" height="1" fill="#000"/>
<rect x="102" y="80" width="8" height="1" fill="#000"/>
<rect x="488" y="80" width="7" height="1" fill="#000"/>
<rect x="102" y="78" width="8" height="1" fill="#000"/>
<rect x="488" y="78" width="7" height="1" fill="#000"/>
<rect x="102" y="75" width="8" height="1" fill="#000"/>
<rect x="488" y="75" width="7" height="1" fill="#000"/>
<rect x="94" y="127" width="16" height="1" fill="#000"/>
<rect x="488" y="127" width="15" height="1" fill="#000"/>
<text x="95.8" y="131.5" font-size="11" font-family="&quot;Liberation Sans&quot;, sans-serif" fill="#000" text-anchor="end" letter-spacing="0.35">0</text>
<rect x="94" y="117" width="16" height="1" fill="#000"/>
<rect x="488" y="117" width="15" height="1" fill="#000"/>
<text x="95.8" y="121.5" font-size="11" font-family="&quot;Liberation Sans&quot;, sans-serif" fill="#000" text-anchor="end" letter-spacing="0.35">2e+20</text>
<rect x="94" y="107" width="16" height="1" fill="#000"/>
<rect x="488" y="107" width="15" height="1" fill="#000"/>
<text x="95.8" y="111.5" font-size="11" font-family="&quot;Liberation Sans&quot;, sans-serif" fill="#000" text-anchor="end" letter-spacing="0.35">4e+20</text>
<rect x="94" y="98" width="16" height="1" fill="#000"/>
<rect x="488" y="98" width="15" height="1" fill="#000"/>
<text x="95.8" y="102.5" font-size="11" font-family="&quot;Liberation Sans&quot;, sans-serif" fill="#000" text-anchor="end" letter-spacing="0.35">6e+20</text>
<rect x="94" y="88" width="16" height="1" fill="#000"/>
<rect x="488" y="88" width="15" height="1" fill="#000"/>
<text x="95.8" y="92.5" font-size="11" font-family="&quot;Liberation Sans&quot;, sans-serif" fill="#000" text-anchor="end" letter-spacing="0.35">8e+20</text>
<rect x="94" y="78" width="16" height="1" fill="#000"/>
<rect x="488" y="78" width="15" height="1" fill="#000"/>
<text x="95.8" y="82.5" font-size="11" font-family="&quot;Liberation Sans&quot;, sans-serif" fill="#000" text-anchor="end" letter-spacing="0.35">1e+21</text>
<rect x="110" y="146" width="378" height="1" fill="#000"/>
<rect x="110" y="263" width="378" height="1" fill="#000"/>
<rect x="110" y="146" width="1" height="118" fill="#000"/>
<rect x="487" y="146" width="1" height="118" fill="#000"/>
<rect x="110" y="142" width="1" height="4" fill="#000"/>
<rect x="110" y="264" width="1" height="5" fill="#000"/>
<rect x="125" y="144" width="1" height="2" fill="#000"/>
<rect x="125" y="264" width="1" height="2" fill="#000"/>
<rect x="141" y="144" width="1" height="2" fill="#000"/>
<rect x="141" y="264" width="1" height="2" fill="#000"/>
<rect x="157" y="144" width="1" height="2" fill="#000"/>
<rect x="157" y="264" width="1" height="2" fill="#000"/>
<rect x="172" y="142" width="1" height="4" fill="#000"/>
<rect x="172" y="264" width="1" height="5" fill="#000"/>
<rect x="188" y="144" width="1" height="2" fill="#000"/>
<rect x="188" y="264" width="1" height="2" fill="#000"/>
<rect x="204" y="144" width="1" height="2" fill="#000"/>
<rect x="204" y="264" width="1" height="2" fill="#000"/>
<rect x="219" y="144" width="1" height="2" fill="#000"/>
<rect x="219" y="264" width="1" height="2" fill="#000"/>
<rect x="235" y="142" width="1" height="4" fill="#000"/>
<rect x="235" y="264" width="1" height="5" fill="#000"/>
<rect x="251" y="144" width="1" height="2" fill="#000"/>
<rect x="251" y="264" width="1" height="2" fill="#000"/>
<rect x="267" y="144" width="1" height="2" fill="#000"/>
<rect x="267" y="264" width="1" height="2" fill="#000"/>
<rect x="282" y="144" width="1" height="2" fill="#000"/>
<rect x="282" y="264" width="1" height="2" fill="#000"/>
<rect x="298" y="142" width="1" height="4" fill="#000"/>
<rect x="298" y="264" width="1" height="5" fill="#000"/>
<rect x="314" y="144" width="1" height="2" fill="#000"/>
<rect x="314" y="264" width="1" height="2" fill="#000"/>
<rect x="329" y="144" width="1" height="2" fill="#000"/>
<rect x="329" y="264" width="1" height="2" fill="#000"/>
<rect x="345" y="144" width="1" height="2" fill="#000"/>
<rect x="345" y="264" width="1" height="2" fill="#000"/>
<rect x="361" y="142" width="1" height="4" fill="#000"/>
<rect x="361" y="264" width="1" height="5" fill="#000"/>
<rect x="377" y="144" width="1" height="2" fill="#000"/>
<rect x="377" y="264" width="1" height="2" fill="#000"/>
<rect x="392" y="144" width="1" height="2" fill="#000"/>
<rect x="392" y="264" width="1" height="2" fill="#000"/>
<rect x="408" y="144" width="1" height="2" fill="#000"/>
<rect x="408" y="264" width="1" height="2" fill="#000"/>
<rect x="424" y="142" width="1" height="4" fill="#000"/>
<rect x="424" y="264" width="1" height="5" fill="#000"/>
<rect x="439" y="144" width="1" height="2" fill="#000"/>
<rect x="439" y="264" width="1" height="2" fill="#000"/>
<rect x="455" y="144" width="1" height="2" fill="#000"/>
<rect x="455" y="264" width="1" height="2" fill="#000"/>
<rect x="471" y="144" width="1" height="2" fill="#000"/>
<rect x="471" y="264" width="1" height="2" fill="#000"/>
<rect x="487" y="142" width="1" height="4" fill="#000"/>
<rect x="487" y="264" width="1" height="5" fill="#000"/>
<rect x="102" y="263" width="8" height="1" fill="#000"/>
<rect x="488" y="263" width="7" height="1" fill="#000"/>
<rect x="102" y="253" width="8" height="1" fill="#000"/>
<rect x="488" y="253" width="7" height="1" fill="#000"/>
<rect x="102" y="247" width="8" height="1" fill="#000"/>
<rect x="488" y="247" width="7" height="1" fill="#000"/>
<rect x="102" y="243" width="8" height="1" fill="#000"/>
<rect x="488" y="243" width="7" height="1" fill="#000"/>
<rect x="102" y="239" width="8" height="1" fill="#000"/>
<rect x="488" y="239" width="7" height="1" fill="#000"/>
<rect x="102" y="237" width="8" height="1" fill="#000"/>
<rect x="488" y="237" width="7" height="1" fill="#000"/>
<rect x="102" y="235" width="8" height="1" fill="#000"/>
<rect x="488" y="235" width="7" height="1" fill="#000"/>
<rect x="102" y="233" width="8" height="1" fill="#000"/>
<rect x="488" y="233" width="7" height="1" fill="#000"/>
<rect x="102" y="231" width="8" height="1" fill="#000"/>
<rect x="488" y="231" width="7" height="1" fill="#000"/>
<rect x="102" y="229" width="8" height="1" fill="#000"/>
<rect x="488" y="229" width="7" height="1" fill="#000"/>
<rect x="102" y="219" width="8" height="1" fill="#000"/>
<rect x="488" y="219" width="7" height="1" fill="#000"/>
<rect x="102" y="213" width="8" height="1" fill="#000"/>
<rect x="488" y="213" width="7" height="1" fill="#000"/>
<rect x="102" y="209" width="8" height="1" fill="#000"/>
<rect x="488" y="209" width="7" height="1" fill="#000"/>
<rect x="102" y="206" width="8" height="1" fill="#000"/>
<rect x="488" y="206" width="7" height="1" fill="#000"/>
<rect x="102" y="203" width="8" height="1" fill="#000"/>
<rect x="488" y="203" width="7" height="1" fill="#000"/>
<rect x="102" y="201" width="8" height="1" fill="#000"/>
<rect x="488" y="201" width="7" height="1" fill="#000"/>
<rect x="102" y="199" width="8" height="1" fill="#000"/>
<rect x="488" y="199" width="7" height="1" fill="#000"/>
<rect x="102" y="197" width="8" height="1" fill="#000"/>
<rect x="488" y="197" width="7" height="1" fill="#000"/>
<rect x="102" y="196" width="8" height="1" fill="#000"/>
<rect x="488" y="196" width="7" height="1" fill="#000"/>
<rect x="102" y="186" width="8" height="1" fill="#000"/>
<rect x="488" y="186" width="7" height="1" fill="#000"/>
<rect x="102" y="180" width="8" height="1" fill="#000"/>
<rect x="488" y="180" width="7" height="1" fill="#000"/>
<rect x="102" y="175" width="8" height="1" fill="#000"/>
<rect x="488" y="175" width="7" height="1" fill="#000"/>
<rect x="102" y="172" width="8" height="1" fill="#000"/>
<rect x="488" y="172" width="7" height="1" fill="#000"/>
<rect x="102" y="169" width="8" height="1" fill="#000"/>
<rect x="488" y="169" width="7" height="1" fill="#000"/>
<rect x="102" y="167" width="8" height="1" fill="#000"/>
<rect x="488" y="167" width="7" height="1" fill="#000"/>
<rect x="102" y="165" width="8" height="1" fill="#000"/>
<rect x="488" y="165" width="7" height="1" fill="#000"/>
<rect x="102" y="164" width="8" height="1" fill="#000"/>
<rect x="488" y="164" width="7" height="1" fill="#000"/>
<rect x="102" y="162" width="8" height="1" fill="#000"/>
<rect x="488" y="162" width="7" height="1" fill="#000"/>
<rect x="102" y="152" width="8" height="1" fill="#000"/>
<rect x="488" y="152" width="7" height="1" fill="#000"/>
<rect x="102" y="146" width="8" height="1" fill="#000"/>
<rect x="488" y="146" width="7" height="1" fill="#000"/>
<rect x="94" y="263" width="16" height="1" fill="#000"/>
<rect x="488" y="263" width="15" height="1" fill="#000"/>
<text x="95.8" y="267.5" font-size="11" font-family="&quot;Liberation Sans&quot;, sans-serif" fill="#000" text-anchor="end" letter-spacing="0.35">10</text>
<rect x="94" y="229" width="16" height="1" fill="#000"/>
<rect x="488" y="229" width="15" height="1" fill="#000"/>
<text x="95.8" y="233.5" font-size="11" font-family="&quot;Liberation Sans&quot;, sans-serif" fill="#000" text-anchor="end" letter-spacing="0.35">100</text>
<rect x="94" y="196" width="16" height="1" fill="#000"/>
<rect x="488" y="196" width="15" height="1" fill="#000"/>
<text x="95.8" y="200.5" font-size="11" font-family="&quot;Liberation Sans&quot;, sans-serif" fill="#000" text-anchor="end" letter-spacing="0.35">1000</text>
<rect x="94" y="162" width="16" height="1" fill="#000"/>
<rect x="488" y="162" width="15" height="1" fill="#000"/>
<text x="95.8" y="166.5" font-size="11" font-family="&quot;Liberation Sans&quot;, sans-serif" fill="#000" text-anchor="end" letter-spacing="0.35">10000</text>
<rect x="110" y="278" width="378" height="1" fill="#000"/>
<rect x="110" y="376" width="378" height="1" fill="#000"/>
<rect x="110" y="278" width="1" height="99" fill="#000"/>
<rect x="487" y="278" width="1" height="99" fill="#000"/>
<rect x="110" y="274" width="1" height="4" fill="#000"/>
<rect x="110" y="377" width="1" height="5" fill="#000"/>
<rect x="125" y="276" width="1" height="2" fill="#000"/>
<rect x="125" y="377" width="1" height="2" fill="#000"/>
<rect x="141" y="276" width="1" height="2" fill="#000"/>
<rect x="141" y="377" width="1" height="2" fill="#000"/>
<rect x="157" y="276" width="1" height="2" fill="#000"/>
<rect x="157" y="377" width="1" height="2" fill="#000"/>
<rect x="172" y="274" width="1" height="4" fill="#000"/>
<rect x="172" y="377" width="1" height="5" fill="#000"/>
<rect x="188" y="276" width="1" height="2" fill="#000"/>
<rect x="188" y="377" width="1" height="2" fill="#000"/>
<rect x="204" y="276" width="1" height="2" fill="#000"/>
<rect x="204" y="377" width="1" height="2" fill="#000"/>
<rect x="219" y="276" width="1" height="2" fill="#000"/>
<rect x="219" y="377" width="1" height="2" fill="#000"/>
<rect x="235" y="274" width="1" height="4" fill="#000"/>
<rect x="235" y="377" width="1" height="5" fill="#000"/>
<rect x="251" y="276" width="1" height="2" fill="#000"/>
<rect x="251" y="377" width="1" height="2" fill="#000"/>
<rect x="267" y="276" width="1" height="2" fill="#000"/>
<rect x="267" y="377" width="1" height="2" fill="#000"/>
<rect x="282" y="276" width="1" height="2" fill="#000"/>
<rect x="282" y="377" width="1" height="2" fill="#000"/>
<rect x="298" y="274" width="1" height="4" fill="#000"/>
<rect x="298" y="377" width="1" height="5" fill="#000"/>
<rect x="314" y="276" width="1" height="2" fill="#000"/>
<rect x="314" y="377" width="1" height="2" fill="#000"/>
<rect x="329" y="276" width="1" height="2" fill="#000"/>
<rect x="329" y="377" width="1" height="2" fill="#000"/>
<rect x="345" y="276" width="1" height="2" fill="#000"/>
<rect x="345" y="377" width="1" height="2" fill="#000"/>
<rect x="361" y="274" width="1" height="4" fill="#000"/>
<rect x="361" y="377" width="1" height="5" fill="#000"/>
<rect x="377" y="276" width="1" height="2" fill="#000"/>
<rect x="377" y="377" width="1" height="2" fill="#000"/>
<rect x="392" y="276" width="1" height="2" fill="#000"/>
<rect x="392" y="377" width="1" height="2" fill="#000"/>
<rect x="408" y="276" width="1" height="2" fill="#000"/>
<rect x="408" y="377" width="1" height="2" fill="#000"/>
<rect x="424" y="274" width="1" height="4" fill="#000"/>
<rect x="424" y="377" width="1" height="5" fill="#000"/>
<rect x="439" y="276" width="1" height="2" fill="#000"/>
<rect x="439" y="377" width="1" height="2" fill="#000"/>
<rect x="455" y="276" width="1" height="2" fill="#000"/>
<rect x="455" y="377" width="1" height="2" fill="#000"/>
<rect x="471" y="276" width="1" height="2" fill="#000"/>
<rect x="471" y="377" width="1" height="2" fill="#000"/>
<rect x="487" y="274" width="1" height="4" fill="#000"/>
<rect x="487" y="377" width="1" height="5" fill="#000"/>
<rect x="102" y="376" width="8" height="1" fill="#000"/>
<rect x="488" y="376" width="7" height="1" fill="#000"/>
<rect x="102" y="370" width="8" height="1" fill="#000"/>
<rect x="488" y="370" width="7" height="1" fill="#000"/>
<rect x="102" y="365" width="8" height="1" fill="#000"/>
<rect x="488" y="365" width="7" height="1" fill="#000"/>
<rect x="102" y="359" width="8" height="1" fill="#000"/>
<rect x="488" y="359" width="7" height="1" fill="#000"/>
<rect x="102" y="354" width="8" height="1" fill="#000"/>
<rect x="488" y="354" width="7" height="1" fill="#000"/>
<rect x="102" y="348" width="8" height="1" fill="#000"/>
<rect x="488" y="348" width="7" height="1" fill="#000"/>
<rect x="102" y="343" width="8" height="1" fill="#000"/>
<rect x="488" y="343" width="7" height="1" fill="#000"/>
<rect x="102" y="337" width="8" height="1" fill="#000"/>
<rect x="488" y="337" width="7" height="1" fill="#000"/>
<rect x="102" y="332" width="8" height="1" fill="#000"/>
<rect x="488" y="332" width="7" height="1" fill="#000"/>
<rect x="102" y="327" width="8" height="1" fill="#000"/>
<rect x="488" y="327" width="7" height="1" fill="#000"/>
<rect x="102" y="321" width="8" height="1" fill="#000"/>
<rect x="488" y="321" width="7" height="1" fill="#000"/>
<rect x="102" y="316" width="8" height="1" fill="#000"/>
<rect x="488" y="316" width="7" height="1" fill="#000"/>
<rect x="102" y="310" width="8" height="1" fill="#000"/>
<rect x="488" y="310" width="7" height="1" fill="#000"/>
<rect x="102" y="305" width="8" height="1" fill="#000"/>
<rect x="488" y="305" width="7" height="1" fill="#000"/>
<rect x="102" y="299" width="8" height="1" fill="#000"/>
<rect x="488" y="299" width="7" height="1" fill="#000"/>
<rect x="102" y="294" width="8" height="1" fill="#000"/>
<rect x="488" y="294" width="7" height="1" fill="#000"/>
<rect x="102" y="288" width="8" height="1" fill="#000"/>
<rect x="488" y="288" width="7" height="1" fill="#000"/>
<rect x="102" y="283" width="8" height="1" fill="#000"/>
<rect x="488" y="283" width="7" height="1" fill="#000"/>
<rect x="102" y="278" width="8" height="1" fill="#000"/>
<rect x="488" y="278" width="7" height="1" fill="#000"/>
<rect x="94" y="376" width="16" height="1" fill="#000"/>
<rect x="488" y="376" width="15" height="1" fill="#000"/>
<text x="95.8" y="380.5" font-size="11" font-family="&quot;Liberation Sans&quot;, sans-serif" fill="#000" text-anchor="end" letter-spacing="0.35">0</text>
<rect x="94" y="348" width="16" height="1" fill="#000"/>
<rect x="488" y="348" width="15" height="1" fill="#000"/>
<text x="95.8" y="352.5" font-size="11" font-family="&quot;Liberation Sans&quot;, sans-serif" fill="#000" text-anchor="end" letter-spacing="0.35">50</text>
<rect x="94" y="321" width="16" height="1" fill="#000"/>
<rect x="488" y="321" width="15" height="1" fill="#000"/>
<text x="95.8" y="325.5" font-size="11" font-family="&quot;Liberation Sans&quot;, sans-serif" fill="#000" text-anchor="end" letter-spacing="0.35">100</text>
<rect x="94" y="294" width="16" height="1" fill="#000"/>
<rect x="488" y="294" width="15" height="1" fill="#000"/>
<text x="95.8" y="298.5" font-size="11" font-family="&quot;Liberation Sans&quot;, sans-serif" fill="#000" text-anchor="end" letter-spacing="0.35">150</text>
<rect x="110" y="390" width="378" height="1" fill="#000"/>
<rect x="110" y="507" width="378" height="1" fill="#000"/>
<rect x="110" y="390" width="1" height="118" fill="#000"/>
<rect x="487" y="390" width="1" height="118" fill="#000"/>
<rect x="110" y="386" width="1" height="4" fill="#000"/>
<rect x="110" y="508" width="1" height="5" fill="#000"/>
<rect x="125" y="388" width="1" height="2" fill="#000"/>
<rect x="125" y="508" width="1" height="2" fill="#000"/>
<rect x="141" y="388" width="1" height="2" fill="#000"/>
<rect x="141" y="508" width="1" height="2" fill="#000"/>
<rect x="157" y="388" width="1" height="2" fill="#000"/>
<rect x="157" y="508" width="1" height="2" fill="#000"/>
<rect x="172" y="386" width="1" height="4" fill="#000"/>
<rect x="172" y="508" width="1" height="5" fill="#000"/>
<rect x="188" y="388" width="1" height="2" fill="#000"/>
<rect x="188" y="508" width="1" height="2" fill="#000"/>
<rect x="204" y="388" width="1" height="2" fill="#000"/>
<rect x="204" y="508" width="1" height="2" fill="#000"/>
<rect x="219" y="388" width="1" height="2" fill="#000"/>
<rect x="219" y="508" width="1" height="2" fill="#000"/>
<rect x="235" y="386" width="1" height="4" fill="#000"/>
<rect x="235" y="508" width="1" height="5" fill="#000"/>
<rect x="251" y="388" width="1" height="2" fill="#000"/>
<rect x="251" y="508" width="1" height="2" fill="#000"/>
<rect x="267" y="388" width="1" height="2" fill="#000"/>
<rect x="267" y="508" width="1" height="2" fill="#000"/>
<rect x="282" y="388" width="1" height="2" fill="#000"/>
<rect x="282" y="508" width="1" height="2" fill="#000"/>
<rect x="298" y="386" width="1" height="4" fill="#000"/>
<rect x="298" y="508" width="1" height="5" fill="#000"/>
<rect x="314" y="388" width="1" height="2" fill="#000"/>
<rect x="314" y="508" width="1" height="2" fill="#000"/>
<rect x="329" y="388" width="1" height="2" fill="#000"/>
<rect x="329" y="508" width="1" height="2" fill="#000"/>
<rect x="345" y="388" width="1" height="2" fill="#000"/>
<rect x="345" y="508" width="1" height="2" fill="#000"/>
<rect x="361" y="386" width="1" height="4" fill="#000"/>
<rect x="361" y="508" width="1" height="5" fill="#000"/>
<rect x="377" y="388" width="1" height="2" fill="#000"/>
<rect x="377" y="508" width="1" height="2" fill="#000"/>
<rect x="392" y="388" width="1" height="2" fill="#000"/>
<rect x="392" y="508" width="1" height="2" fill="#000"/>
<rect x="408" y="388" width="1" height="2" fill="#000"/>
<rect x="408" y="508" width="1" height="2" fill="#000"/>
<rect x="424" y="386" width="1" height="4" fill="#000"/>
<rect x="424" y="508" width="1" height="5" fill="#000"/>
<rect x="439" y="388" width="1" height="2" fill="#000"/>
<rect x="439" y="508" width="1" height="2" fill="#000"/>
<rect x="455" y="388" width="1" height="2" fill="#000"/>
<rect x="455" y="508" width="1" height="2" fill="#000"/>
<rect x="471" y="388" width="1" height="2" fill="#000"/>
<rect x="471" y="508" width="1" height="2" fill="#000"/>
<rect x="487" y="386" width="1" height="4" fill="#000"/>
<rect x="487" y="508" width="1" height="5" fill="#000"/>
<rect x="102" y="507" width="8" height="1" fill="#000"/>
<rect x="488" y="507" width="7" height="1" fill="#000"/>
<rect x="102" y="497" width="8" height="1" fill="#000"/>
<rect x="488" y="497" width="7" height="1" fill="#000"/>
<rect x="102" y="491" width="8" height="1" fill="#000"/>
<rect x="488" y="491" width="7" height="1" fill="#000"/>
<rect x="102" y="487" width="8" height="1" fill="#000"/>
<rect x="488" y="487" width="7" height="1" fill="#000"/>
<rect x="102" y="483" width="8" height="1" fill="#000"/>
<rect x="488" y="483" width="7" height="1" fill="#000"/>
<rect x="102" y="481" width="8" height="1" fill="#000"/>
<rect x="488" y="481" width="7" height="1" fill="#000"/>
<rect x="102" y="479" width="8" height="1" fill="#000"/>
<rect x="488" y="479" width="7" height="1" fill="#000"/>
<rect x="102" y="477" width="8" height="1" fill="#000"/>
<rect x="488" y="477" width="7" height="1" fill="#000"/>
<rect x="102" y="475" width="8" height="1" fill="#000"/>
<rect x="488" y="475" width="7" height="1" fill="#000"/>
<rect x="102" y="473" width="8" height="1" fill="#000"/>
<rect x="488" y="473" width="7" height="1" fill="#000"/>
<rect x="102" y="463" width="8" height="1" fill="#000"/>
<rect x="488" y="463" width="7" height="1" fill="#000"/>
<rect x="102" y="457" width="8" height="1" fill="#000"/>
<rect x="488" y="457" width="7" height="1" fill="#000"/>
<rect x="102" y="453" width="8" height="1" fill="#000"/>
<rect x="488" y="453" width="7" height="1" fill="#000"/>
<rect x="102" y="450" width="8" height="1" fill="#000"/>
<rect x="488" y="450" width="7" height="1" fill="#000"/>
<rect x="102" y="447" width="8" height="1" fill="#000"/>
<rect x="488" y="447" width="7" height="1" fill="#000"/>
<rect x="102" y="445" width="8" height="1" fill="#000"/>
<rect x="488" y="445" width="7" height="1" fill="#000"/>
<rect x="102" y="443" width="8" height="1" fill="#000"/>
<rect x="488" y="443" width="7" height="1" fill="#000"/>
<rect x="102" y="441" width="8" height="1" fill="#000"/>
<rect x="488" y="441" width="7" height="1" fill="#000"/>
<rect x="102" y="440" width="8" height="1" fill="#000"/>
<rect x="488" y="440" width="7" height="1" fill="#000"/>
<rect x="102" y="430" width="8" height="1" fill="#000"/>
<rect x="488" y="430" width="7" height="1" fill="#000"/>
<rect x="102" y="424" width="8" height="1" fill="#000"/>
<rect x="488" y="424" width="7" height="1" fill="#000"/>
<rect x="102" y="419" width="8" height="1" fill="#000"/>
<rect x="488" y="419" width="7" height="1" fill="#000"/>
<rect x="102" y="416" width="8" height="1" fill="#000"/>
<rect x="488" y="416" width="7" height="1" fill="#000"/>
<rect x="102" y="413" width="8" height="1" fill="#000"/>
<rect x="488" y="413" width="7" height="1" fill="#000"/>
<rect x="102" y="411" width="8" height="1" fill="#000"/>
<rect x="488" y="411" width="7" height="1" fill="#000"/>
<rect x="102" y="409" width="8" height="1" fill="#000"/>
<rect x="488" y="409" width="7" height="1" fill="#000"/>
<rect x="102" y="408" width="8" height="1" fill="#000"/>
<rect x="488" y="408" width="7" height="1" fill="#000"/>
<rect x="102" y="406" width="8" height="1" fill="#000"/>
<rect x="488" y="406" width="7" height="1" fill="#000"/>
<rect x="102" y="396" width="8" height="1" fill="#000"/>
<rect x="488" y="396" width="7" height="1" fill="#000"/>
<rect x="102" y="390" width="8" height="1" fill="#000"/>
<rect x="488" y="390" width="7" height="1" fill="#000"/>
<rect x="94" y="507" width="16" height="1" fill="#000"/>
<rect x="488" y="507" width="15" height="1" fill="#000"/>
<text x="95.8" y="511.5" font-size="11" font-family="&quot;Liberation Sans&quot;, sans-serif" fill="#000" text-anchor="end" letter-spacing="0.35">10</text>
<rect x="94" y="473" width="16" height="1" fill="#000"/>
<rect x="488" y="473" width="15" height="1" fill="#000"/>
<text x="95.8" y="477.5" font-size="11" font-family="&quot;Liberation Sans&quot;, sans-serif" fill="#000" text-anchor="end" letter-spacing="0.35">100</text>
<rect x="94" y="440" width="16" height="1" fill="#000"/>
<rect x="488" y="440" width="15" height="1" fill="#000"/>
<text x="95.8" y="444.5" font-size="11" font-family="&quot;Liberation Sans&quot;, sans-serif" fill="#000" text-anchor="end" letter-spacing="0.35">1000</text>
<rect x="94" y="406" width="16" height="1" fill="#000"/>
<rect x="488" y="406" width="15" height="1" fill="#000"/>
<text x="95.8" y="410.5" font-size="11" font-family="&quot;Liberation Sans&quot;, sans-serif" fill="#000" text-anchor="end" letter-spacing="0.35">10000</text>
<rect x="110" y="522" width="378" height="1" fill="#000"/>
<rect x="110" y="620" width="378" height="1" fill="#000"/>
<rect x="110" y="522" width="1" height="99" fill="#000"/>
<rect x="487" y="522" width="1" height="99" fill="#000"/>
<rect x="110" y="518" width="1" height="4" fill="#000"/>
<rect x="110" y="621" width="1" height="5" fill="#000"/>
<rect x="125" y="520" width="1" height="2" fill="#000"/>
<rect x="125" y="621" width="1" height="2" fill="#000"/>
<rect x="141" y="520" width="1" height="2" fill="#000"/>
<rect x="141" y="621" width="1" height="2" fill="#000"/>
<rect x="157" y="520" width="1" height="2" fill="#000"/>
<rect x="157" y="621" width="1" height="2" fill="#000"/>
<rect x="172" y="518" width="1" height="4" fill="#000"/>
<rect x="172" y="621" width="1" height="5" fill="#000"/>
<rect x="188" y="520" width="1" height="2" fill="#000"/>
<rect x="188" y="621" width="1" height="2" fill="#000"/>
<rect x="204" y="520" width="1" height="2" fill="#000"/>
<rect x="204" y="621" width="1" height="2" fill="#000"/>
<rect x="219" y="520" width="1" height="2" fill="#000"/>
<rect x="219" y="621" width="1" height="2" fill="#000"/>
<rect x="235" y="518" width="1" height="4" fill="#000"/>
<rect x="235" y="621" width="1" height="5" fill="#000"/>
<rect x="251" y="520" width="1" height="2" fill="#000"/>
<rect x="251" y="621" width="1" height="2" fill="#000"/>
<rect x="267" y="520" width="1" height="2" fill="#000"/>
<rect x="267" y="621" width="1" height="2" fill="#000"/>
<rect x="282" y="520" width="1" height="2" fill="#000"/>
<rect x="282" y="621" width="1" height="2" fill="#000"/>
<rect x="298" y="518" width="1" height="4" fill="#000"/>
<rect x="298" y="621" width="1" height="5" fill="#000"/>
<rect x="314" y="520" width="1" height="2" fill="#000"/>
<rect x="314" y="621" width="1" height="2" fill="#000"/>
<rect x="329" y="520" width="1" height="2" fill="#000"/>
<rect x="329" y="621" width="1" height="2" fill="#000"/>
<rect x="345" y="520" width="1" height="2" fill="#000"/>
<rect x="345" y="621" width="1" height="2" fill="#000"/>
<rect x="361" y="518" width="1" height="4" fill="#000"/>
<rect x="361" y="621" width="1" height="5" fill="#000"/>
<rect x="377" y="520" width="1" height="2" fill="#000"/>
<rect x="377" y="621" width="1" height="2" fill="#000"/>
<rect x="392" y="520" width="1" height="2" fill="#000"/>
<rect x="392" y="621" width="1" height="2" fill="#000"/>
<rect x="408" y="520" width="1" height="2" fill="#000"/>
<rect x="408" y="621" width="1" height="2" fill="#000"/>
<rect x="424" y="518" width="1" height="4" fill="#000"/>
<rect x="424" y="621" width="1" height="5" fill="#000"/>
<rect x="439" y="520" width="1" height="2" fill="#000"/>
<rect x="439" y="621" width="1" height="2" fill="#000"/>
<rect x="455" y="520" width="1" height="2" fill="#000"/>
<rect x="455" y="621" width="1" height="2" fill="#000"/>
<rect x="471" y="520" width="1" height="2" fill="#000"/>
<rect x="471" y="621" width="1" height="2" fill="#000"/>
<rect x="487" y="518" width="1" height="4" fill="#000"/>
<rect x="487" y="621" width="1" height="5" fill="#000"/>
<rect x="102" y="620" width="8" height="1" fill="#000"/>
<rect x="488" y="620" width="7" height="1" fill="#000"/>
<rect x="102" y="590" width="8" height="1" fill="#000"/>
<rect x="488" y="590" width="7" height="1" fill="#000"/>
<rect x="102" y="573" width="8" height="1" fill="#000"/>
<rect x="488" y="573" width="7" height="1" fill="#000"/>
<rect x="102" y="561" width="8" height="1" fill="#000"/>
<rect x="488" y="561" width="7" height="1" fill="#000"/>
<rect x="102" y="551" width="8" height="1" fill="#000"/>
<rect x="488" y="551" width="7" height="1" fill="#000"/>
<rect x="102" y="544" width="8" height="1" fill="#000"/>
<rect x="488" y="544" width="7" height="1" fill="#000"/>
<rect x="102" y="537" width="8" height="1" fill="#000"/>
<rect x="488" y="537" width="7" height="1" fill="#000"/>
<rect x="102" y="531" width="8" height="1" fill="#000"/>
<rect x="488" y="531" width="7" height="1" fill="#000"/>
<rect x="102" y="526" width="8" height="1" fill="#000"/>
<rect x="488" y="526" width="7" height="1" fill="#000"/>
<rect x="102" y="522" width="8" height="1" fill="#000"/>
<rect x="488" y="522" width="7" height="1" fill="#000"/>
<rect x="94" y="620" width="16" height="1" fill="#000"/>
<rect x="488" y="620" width="15" height="1" fill="#000"/>
<text x="95.8" y="624.5" font-size="11" font-family="&quot;Liberation Sans&quot;, sans-serif" fill="#000" text-anchor="end" letter-spacing="0.35">1</text>
<rect x="94" y="522" width="16" height="1" fill="#000"/>
<rect x="488" y="522" width="15" height="1" fill="#000"/>
<text x="95.8" y="526.5" font-size="11" font-family="&quot;Liberation Sans&quot;, sans-serif" fill="#000" text-anchor="end" letter-spacing="0.35">10</text>
<rect x="110" y="634" width="378" height="1" fill="#000"/>
<rect x="110" y="732" width="378" height="1" fill="#000"/>
<rect x="110" y="634" width="1" height="99" fill="#000"/>
<rect x="487" y="634" width="1" height="99" fill="#000"/>
<rect x="110" y="630" width="1" height="4" fill="#000"/>
<rect x="110" y="733" width="1" height="5" fill="#000"/>
<rect x="125" y="632" width="1" height="2" fill="#000"/>
<rect x="125" y="733" width="1" height="2" fill="#000"/>
<rect x="141" y="632" width="1" height="2" fill="#000"/>
<rect x="141" y="733" width="1" height="2" fill="#000"/>
<rect x="157" y="632" width="1" height="2" fill="#000"/>
<rect x="157" y="733" width="1" height="2" fill="#000"/>
<rect x="172" y="630" width="1" height="4" fill="#000"/>
<rect x="172" y="733" width="1" height="5" fill="#000"/>
<rect x="188" y="632" width="1" height="2" fill="#000"/>
<rect x="188" y="733" width="1" height="2" fill="#000"/>
<rect x="204" y="632" width="1" height="2" fill="#000"/>
<rect x="204" y="733" width="1" height="2" fill="#000"/>
<rect x="219" y="632" width="1" height="2" fill="#000"/>
<rect x="219" y="733" width="1" height="2" fill="#000"/>
<rect x="235" y="630" width="1" height="4" fill="#000"/>
<rect x="235" y="733" width="1" height="5" fill="#000"/>
<rect x="251" y="632" width="1" height="2" fill="#000"/>
<rect x="251" y="733" width="1" height="2" fill="#000"/>
<rect x="267" y="632" width="1" height="2" fill="#000"/>
<rect x="267" y="733" width="1" height="2" fill="#000"/>
<rect x="282" y="632" width="1" height="2" fill="#000"/>
<rect x="282" y="733" width="1" height="2" fill="#000"/>
<rect x="298" y="630" width="1" height="4" fill="#000"/>
<rect x="298" y="733" width="1" height="5" fill="#000"/>
<rect x="314" y="632" width="1" height="2" fill="#000"/>
<rect x="314" y="733" width="1" height="2" fill="#000"/>
<rect x="329" y="632" width="1" height="2" fill="#000"/>
<rect x="329" y="733" width="1" height="2" fill="#000"/>
<rect x="345" y="632" width="1" height="2" fill="#000"/>
<rect x="345" y="733" width="1" height="2" fill="#000"/>
<rect x="361" y="630" width="1" height="4" fill="#000"/>
<rect x="361" y="733" width="1" height="5" fill="#000"/>
<rect x="377" y="632" width="1" height="2" fill="#000"/>
<rect x="377" y="733" width="1" height="2" fill="#000"/>
<rect x="392" y="632" width="1" height="2" fill="#000"/>
<rect x="392" y="733" width="1" height="2" fill="#000"/>
<rect x="408" y="632" width="1" height="2" fill="#000"/>
<rect x="408" y="733" width="1" height="2" fill="#000"/>
<rect x="424" y="630" width="1" height="4" fill="#000"/>
<rect x="424" y="733" width="1" height="5" fill="#000"/>
<rect x="439" y="632" width="1" height="2" fill="#000"/>
<rect x="439" y="733" width="1" height="2" fill="#000"/>
<rect x="455" y="632" width="1" height="2" fill="#000"/>
<rect x="455" y="733" width="1" height="2" fill="#000"/>
<rect x="471" y="632" width="1" height="2" fill="#000"/>
<rect x="471" y="733" width="1" height="2" fill="#000"/>
<rect x="487" y="630" width="1" height="4" fill="#000"/>
<rect x="487" y="733" width="1" height="5" fill="#000"/>
<rect x="102" y="732" width="8" height="1" fill="#000"/>
<rect x="488" y="732" width="7" height="1" fill="#000"/>
<rect x="102" y="727" width="8" height="1" fill="#000"/>
<rect x="488" y="727" width="7" height="1" fill="#000"/>
<rect x="102" y="722" width="8" height="1" fill="#000"/>
<rect x="488" y="722" width="7" height="1" fill="#000"/>
<rect x="102" y="717" width="8" height="1" fill="#000"/>
<rect x="488" y="717" width="7" height="1" fill="#000"/>
<rect x="102" y="713" width="8" height="1" fill="#000"/>
<rect x="488" y="713" width="7" height="1" fill="#000"/>
<rect x="102" y="708" width="8" height="1" fill="#000"/>
<rect x="488" y="708" width="7" height="1" fill="#000"/>
<rect x="102" y="703" width="8" height="1" fill="#000"/>
<rect x="488" y="703" width="7" height="1" fill="#000"/>
<rect x="102" y="698" width="8" height="1" fill="#000"/>
<rect x="488" y="698" width="7" height="1" fill="#000"/>
<rect x="102" y="693" width="8" height="1" fill="#000"/>
<rect x="488" y="693" width="7" height="1" fill="#000"/>
<rect x="102" y="688" width="8" height="1" fill="#000"/>
<rect x="488" y="688" width="7" height="1" fill="#000"/>
<rect x="102" y="683" width="8" height="1" fill="#000"/>
<rect x="488" y="683" width="7" height="1" fill="#000"/>
<rect x="102" y="678" width="8" height="1" fill="#000"/>
<rect x="488" y="678" width="7" height="1" fill="#000"/>
<rect x="102" y="673" width="8" height="1" fill="#000"/>
<rect x="488" y="673" width="7" height="1" fill="#000"/>
<rect x="102" y="668" width="8" height="1" fill="#000"/>
<rect x="488" y="668" width="7" height="1" fill="#000"/>
<rect x="102" y="664" width="8" height="1" fill="#000"/>
<rect x="488" y="664" width="7" height="1" fill="#000"/>
<rect x="102" y="659" width="8" height="1" fill="#000"/>
<rect x="488" y="659" width="7" height="1" fill="#000"/>
<rect x="102" y="654" width="8" height="1" fill="#000"/>
<rect x="488" y="654" width="7" height="1" fill="#000"/>
<rect x="102" y="649" width="8" height="1" fill="#000"/>
<rect x="488" y="649" width="7" height="1" fill="#000"/>
<rect x="102" y="644" width="8" height="1" fill="#000"/>
<rect x="488" y="644" width="7" height="1" fill="#000"/>
<rect x="102" y="639" width="8" height="1" fill="#000"/>
<rect x="488" y="639" width="7" height="1" fill="#000"/>
<rect x="102" y="634" width="8" height="1" fill="#000"/>
<rect x="488" y="634" width="7" height="1" fill="#000"/>
<rect x="94" y="722" width="16" height="1" fill="#000"/>
<rect x="488" y="722" width="15" height="1" fill="#000"/>
<text x="95.8" y="726.5" font-size="11" font-family="&quot;Liberation Sans&quot;, sans-serif" fill="#000" text-anchor="end" letter-spacing="0.35">-40</text>
<rect x="94" y="703" width="16" height="1" fill="#000"/>
<rect x="488" y="703" width="15" height="1" fill="#000"/>
<text x="95.8" y="707.5" font-size="11" font-family="&quot;Liberation Sans&quot;, sans-serif" fill="#000" text-anchor="end" letter-spacing="0.35">-20</text>
<rect x="94" y="683" width="16" height="1" fill="#000"/>
<rect x="488" y="683" width="15" height="1" fill="#000"/>
<text x="95.8" y="687.5" font-size="11" font-family="&quot;Liberation Sans&quot;, sans-serif" fill="#000" text-anchor="end" letter-spacing="0.35">0</text>
<rect x="94" y="664" width="16" height="1" fill="#000"/>
<rect x="488" y="664" width="15" height="1" fill="#000"/>
<text x="95.8" y="668.5" font-size="11" font-family="&quot;Liberation Sans&quot;, sans-serif" fill="#000" text-anchor="end" letter-spacing="0.35">20</text>
<rect x="94" y="644" width="16" height="1" fill="#000"/>
<rect x="488" y="644" width="15" height="1" fill="#000"/>
<text x="95.8" y="648.5" font-size="11" font-family="&quot;Liberation Sans&quot;, sans-serif" fill="#000" text-anchor="end" letter-spacing="0.35">40</text>
<rect x="110" y="747" width="378" height="1" fill="#000"/>
<rect x="110" y="844" width="378" height="1" fill="#000"/>
<rect x="110" y="747" width="1" height="98" fill="#000"/>
<rect x="487" y="747" width="1" height="98" fill="#000"/>
<rect x="110" y="743" width="1" height="4" fill="#000"/>
<rect x="110" y="845" width="1" height="5" fill="#000"/>
<rect x="125" y="745" width="1" height="2" fill="#000"/>
<rect x="125" y="845" width="1" height="2" fill="#000"/>
<rect x="141" y="745" width="1" height="2" fill="#000"/>
<rect x="141" y="845" width="1" height="2" fill="#000"/>
<rect x="157" y="745" width="1" height="2" fill="#000"/>
<rect x="157" y="845" width="1" height="2" fill="#000"/>
<rect x="172" y="743" width="1" height="4" fill="#000"/>
<rect x="172" y="845" width="1" height="5" fill="#000"/>
<rect x="188" y="745" width="1" height="2" fill="#000"/>
<rect x="188" y="845" width="1" height="2" fill="#000"/>
<rect x="204" y="745" width="1" height="2" fill="#000"/>
<rect x="204" y="845" width="1" height="2" fill="#000"/>
<rect x="219" y="745" width="1" height="2" fill="#000"/>
<rect x="219" y="845" width="1" height="2" fill="#000"/>
<rect x="235" y="743" width="1" height="4" fill="#000"/>
<rect x="235" y="845" width="1" height="5" fill="#000"/>
<rect x="251" y="745" width="1" height="2" fill="#000"/>
<rect x="251" y="845" width="1" height="2" fill="#000"/>
<rect x="267" y="745" width="1" height="2" fill="#000"/>
<rect x="267" y="845" width="1" height="2" fill="#000"/>
<rect x="282" y="745" width="1" height="2" fill="#000"/>
<rect x="282" y="845" width="1" height="2" fill="#000"/>
<rect x="298" y="743" width="1" height="4" fill="#000"/>
<rect x="298" y="845" width="1" height="5" fill="#000"/>
<rect x="314" y="745" width="1" height="2" fill="#000"/>
<rect x="314" y="845" width="1" height="2" fill="#000"/>
<rect x="329" y="745" width="1" height="2" fill="#000"/>
<rect x="329" y="845" width="1" height="2" fill="#000"/>
<rect x="345" y="745" width="1" height="2" fill="#000"/>
<rect x="345" y="845" width="1" height="2" fill="#000"/>
<rect x="361" y="743" width="1" height="4" fill="#000"/>
<rect x="361" y="845" width="1" height="5" fill="#000"/>
<rect x="377" y="745" width="1" height="2" fill="#000"/>
<rect x="377" y="845" width="1" height="2" fill="#000"/>
<rect x="392" y="745" width="1" height="2" fill="#000"/>
<rect x="392" y="845" width="1" height="2" fill="#000"/>
<rect x="408" y="745" width="1" height="2" fill="#000"/>
<rect x="408" y="845" width="1" height="2" fill="#000"/>
<rect x="424" y="743" width="1" height="4" fill="#000"/>
<rect x="424" y="845" width="1" height="5" fill="#000"/>
<rect x="439" y="745" width="1" height="2" fill="#000"/>
<rect x="439" y="845" width="1" height="2" fill="#000"/>
<rect x="455" y="745" width="1" height="2" fill="#000"/>
<rect x="455" y="845" width="1" height="2" fill="#000"/>
<rect x="471" y="745" width="1" height="2" fill="#000"/>
<rect x="471" y="845" width="1" height="2" fill="#000"/>
<rect x="487" y="743" width="1" height="4" fill="#000"/>
<rect x="487" y="845" width="1" height="5" fill="#000"/>
<rect x="102" y="844" width="8" height="1" fill="#000"/>
<rect x="488" y="844" width="7" height="1" fill="#000"/>
<rect x="102" y="839" width="8" height="1" fill="#000"/>
<rect x="488" y="839" width="7" height="1" fill="#000"/>
<rect x="102" y="834" width="8" height="1" fill="#000"/>
<rect x="488" y="834" width="7" height="1" fill="#000"/>
<rect x="102" y="829" width="8" height="1" fill="#000"/>
<rect x="488" y="829" width="7" height="1" fill="#000"/>
<rect x="102" y="825" width="8" height="1" fill="#000"/>
<rect x="488" y="825" width="7" height="1" fill="#000"/>
<rect x="102" y="820" width="8" height="1" fill="#000"/>
<rect x="488" y="820" width="7" height="1" fill="#000"/>
<rect x="102" y="815" width="8" height="1" fill="#000"/>
<rect x="488" y="815" width="7" height="1" fill="#000"/>
<rect x="102" y="810" width="8" height="1" fill="#000"/>
<rect x="488" y="810" width="7" height="1" fill="#000"/>
<rect x="102" y="805" width="8" height="1" fill="#000"/>
<rect x="488" y="805" width="7" height="1" fill="#000"/>
<rect x="102" y="800" width="8" height="1" fill="#000"/>
<rect x="488" y="800" width="7" height="1" fill="#000"/>
<rect x="102" y="796" width="8" height="1" fill="#000"/>
<rect x="488" y="796" width="7" height="1" fill="#000"/>
<rect x="102" y="791" width="8" height="1" fill="#000"/>
<rect x="488" y="791" width="7" height="1" fill="#000"/>
<rect x="102" y="786" width="8" height="1" fill="#000"/>
<rect x="488" y="786" width="7" height="1" fill="#000"/>
<rect x="102" y="781" width="8" height="1" fill="#000"/>
<rect x="488" y="781" width="7" height="1" fill="#000"/>
<rect x="102" y="776" width="8" height="1" fill="#000"/>
<rect x="488" y="776" width="7" height="1" fill="#000"/>
<rect x="102" y="771" width="8" height="1" fill="#000"/>
<rect x="488" y="771" width="7" height="1" fill="#000"/>
<rect x="102" y="766" width="8" height="1" fill="#000"/>
<rect x="488" y="766" width="7" height="1" fill="#000"/>
<rect x="102" y="762" width="8" height="1" fill="#000"/>
<rect x="488" y="762" width="7" height="1" fill="#000"/>
<rect x="102" y="757" width="8" height="1" fill="#000"/>
<rect x="488" y="757" width="7" height="1" fill="#000"/>
<rect x="102" y="752" width="8" height="1" fill="#000"/>
<rect x="488" y="752" width="7" height="1" fill="#000"/>
<rect x="102" y="747" width="8" height="1" fill="#000"/>
<rect x="488" y="747" width="7" height="1" fill="#000"/>
<rect x="94" y="844" width="16" height="1" fill="#000"/>
<rect x="488" y="844" width="15" height="1" fill="#000"/>
<text x="95.8" y="848.5" font-size="11" font-family="&quot;Liberation Sans&quot;, sans-serif" fill="#000" text-anchor="end" letter-spacing="0.35">-0.000010</text>
<rect x="94" y="820" width="16" height="1" fill="#000"/>
<rect x="488" y="820" width="15" height="1" fill="#000"/>
<text x="95.8" y="824.5" font-size="11" font-family="&quot;Liberation Sans&quot;, sans-serif" fill="#000" text-anchor="end" letter-spacing="0.35">-0.000005</text>
<rect x="94" y="796" width="16" height="1" fill="#000"/>
<rect x="488" y="796" width="15" height="1" fill="#000"/>
<text x="95.8" y="800.5" font-size="11" font-family="&quot;Liberation Sans&quot;, sans-serif" fill="#000" text-anchor="end" letter-spacing="0.35">0.000000</text>
<rect x="94" y="771" width="16" height="1" fill="#000"/>
<rect x="488" y="771" width="15" height="1" fill="#000"/>
<text x="95.8" y="775.5" font-size="11" font-family="&quot;Liberation Sans&quot;, sans-serif" fill="#000" text-anchor="end" letter-spacing="0.35">0.000005</text>
<rect x="94" y="747" width="16" height="1" fill="#000"/>
<rect x="488" y="747" width="15" height="1" fill="#000"/>
<text x="95.8" y="751.5" font-size="11" font-family="&quot;Liberation Sans&quot;, sans-serif" fill="#000" text-anchor="end" letter-spacing="0.35">0.000010</text>
<rect x="111" y="127" width="6" height="1" fill="#000"/>
<rect x="123" y="127" width="8" height="1" fill="#000"/>
<rect x="137" y="127" width="8" height="1" fill="#000"/>
<rect x="151" y="127" width="8" height="1" fill="#000"/>
<rect x="165" y="127" width="8" height="1" fill="#000"/>
<rect x="179" y="127" width="8" height="1" fill="#000"/>
<rect x="193" y="127" width="8" height="1" fill="#000"/>
<rect x="207" y="127" width="8" height="1" fill="#000"/>
<rect x="221" y="127" width="8" height="1" fill="#000"/>
<rect x="235" y="127" width="8" height="1" fill="#000"/>
<rect x="249" y="127" width="8" height="1" fill="#000"/>
<rect x="263" y="127" width="8" height="1" fill="#000"/>
<rect x="277" y="127" width="8" height="1" fill="#000"/>
<rect x="291" y="127" width="8" height="1" fill="#000"/>
<rect x="305" y="127" width="8" height="1" fill="#000"/>
<rect x="319" y="127" width="8" height="1" fill="#000"/>
<rect x="333" y="127" width="8" height="1" fill="#000"/>
<rect x="347" y="127" width="8" height="1" fill="#000"/>
<rect x="361" y="127" width="8" height="1" fill="#000"/>
<rect x="375" y="127" width="8" height="1" fill="#000"/>
<rect x="389" y="127" width="8" height="1" fill="#000"/>
<rect x="403" y="127" width="8" height="1" fill="#000"/>
<rect x="417" y="127" width="8" height="1" fill="#000"/>
<rect x="431" y="127" width="8" height="1" fill="#000"/>
<rect x="445" y="127" width="8" height="1" fill="#000"/>
<rect x="459" y="127" width="8" height="1" fill="#000"/>
<rect x="473" y="127" width="8" height="1" fill="#000"/>
<rect x="111" y="683" width="6" height="1" fill="#000"/>
<rect x="123" y="683" width="8" height="1" fill="#000"/>
<rect x="137" y="683" width="8" height="1" fill="#000"/>
<rect x="151" y="683" width="8" height="1" fill="#000"/>
<rect x="165" y="683" width="8" height="1" fill="#000"/>
<rect x="179" y="683" width="8" height="1" fill="#000"/>
<rect x="193" y="683" width="8" height="1" fill="#000"/>
<rect x="207" y="683" width="8" height="1" fill="#000"/>
<rect x="221" y="683" width="8" height="1" fill="#000"/>
<rect x="235" y="683" width="8" height="1" fill="#000"/>
<rect x="249" y="683" width="8" height="1" fill="#000"/>
<rect x="263" y="683" width="8" height="1" fill="#000"/>
<rect x="277" y="683" width="8" height="1" fill="#000"/>
<rect x="291" y="683" width="8" height="1" fill="#000"/>
<rect x="305" y="683" width="8" height="1" fill="#000"/>
<rect x="319" y="683" width="8" height="1" fill="#000"/>
<rect x="333" y="683" width="8" height="1" fill="#000"/>
<rect x="347" y="683" width="8" height="1" fill="#000"/>
<rect x="361" y="683" width="8" height="1" fill="#000"/>
<rect x="375" y="683" width="8" height="1" fill="#000"/>
<rect x="389" y="683" width="8" height="1" fill="#000"/>
<rect x="403" y="683" width="8" height="1" fill="#000"/>
<rect x="417" y="683" width="8" height="1" fill="#000"/>
<rect x="431" y="683" width="8" height="1" fill="#000"/>
<rect x="445" y="683" width="8" height="1" fill="#000"/>
<rect x="459" y="683" width="8" height="1" fill="#000"/>
<rect x="473" y="683" width="8" height="1" fill="#000"/>
<path d="M111 672h1v1h-1zM112 672h1v1h-1zM113 672h1v1h-1zM114 672h1v1h-1zM115 672h1v1h-1zM116 672h1v1h-1zM117 672h1v1h-1zM118 672h1v1h-1zM119 672h1v1h-1zM120 672h1v1h-1zM121 672h1v1h-1zM122 672h1v1h-1zM123 672h1v1h-1zM124 672h1v1h-1zM125 672h1v1h-1zM126 672h1v1h-1zM127 672h1v2h-1zM128 673h1v1h-1zM129 673h1v1h-1zM130 673h1v1h-1zM131 672h1v2h-1zM132 672h1v1h-1zM133 672h1v2h-1zM134 672h1v2h-1zM135 672h1v1h-1zM136 672h1v2h-1zM137 672h1v2h-1zM138 672h1v2h-1zM139 673h1v1h-1zM140 673h1v1h-1zM141 673h1v1h-1zM142 673h1v1h-1zM143 673h1v1h-1zM144 673h1v1h-1zM145 673h1v1h-1zM146 673h1v1h-1zM147 673h1v2h-1zM148 674h1v1h-1zM149 674h1v1h-1zM150 674h1v1h-1zM151 673h1v2h-1zM152 673h1v1h-1zM153 673h1v1h-1zM154 673h1v1h-1zM155 673h1v2h-1zM156 674h1v1h-1zM157 674h1v1h-1zM158 674h1v1h-1zM159 674h1v1h-1zM160 674h1v1h-1zM161 674h1v1h-1zM162 674h1v1h-1zM163 674h1v1h-1zM164 674h1v1h-1zM165 674h1v1h-1zM166 674h1v1h-1zM167 673h1v2h-1zM168 673h1v2h-1zM169 674h1v1h-1zM170 673h1v2h-1zM171 673h1v1h-1zM172 673h1v1h-1zM173 673h1v2h-1zM174 674h1v1h-1zM175 673h1v2h-1zM176 673h1v1h-1zM177 673h1v1h-1zM178 673h1v1h-1zM179 673h1v2h-1zM180 673h1v2h-1zM181 673h1v1h-1zM182 673h1v1h-1zM183 673h1v1h-1zM184 673h1v1h-1zM185 673h1v1h-1zM186 673h1v1h-1zM187 673h1v1h-1zM188 673h1v1h-1zM189 673h1v1h-1zM190 673h1v1h-1zM191 673h1v1h-1zM192 673h1v1h-1zM193 673h1v1h-1zM194 673h1v1h-1zM195 673h1v1h-1zM196 673h1v1h-1zM197 673h1v1h-1zM198 673h1v1h-1zM199 673h1v1h-1zM200 673h1v1h-1zM201 673h1v1h-1zM202 673h1v1h-1zM203 673h1v1h-1zM204 673h1v1h-1zM205 673h1v1h-1zM206 673h1v1h-1zM207 673h1v1h-1zM208 673h1v1h-1zM209 673h1v1h-1zM210 673h1v1h-1zM211 673h1v1h-1zM212 673h1v1h-1zM213 673h1v1h-1zM214 673h1v1h-1zM215 673h1v1h-1zM216 673h1v2h-1zM217 673h1v2h-1zM218 673h1v1h-1zM219 673h1v2h-1zM220 674h1v1h-1zM221 674h1v1h-1zM222 674h1v1h-1zM223 674h1v1h-1zM224 674h1v1h-1zM225 673h1v2h-1zM226 673h1v2h-1zM227 674h1v1h-1zM228 674h1v1h-1zM229 673h1v2h-1zM230 673h1v1h-1zM231 673h1v1h-1zM232 673h1v2h-1zM233 673h1v2h-1zM234 673h1v1h-1zM235 673h1v1h-1zM236 673h1v1h-1zM237 673h1v1h-1zM238 673h1v1h-1zM239 673h1v1h-1zM240 673h1v1h-1zM241 673h1v1h-1zM242 673h1v1h-1zM243 673h1v1h-1zM244 673h1v1h-1zM245 673h1v1h-1zM246 673h1v1h-1zM247 673h1v2h-1zM248 673h1v2h-1zM249 673h1v1h-1zM250 673h1v2h-1zM251 674h1v1h-1zM252 674h1v1h-1zM253 674h1v1h-1zM254 674h1v1h-1zM255 674h1v1h-1zM256 674h1v1h-1zM257 674h1v1h-1zM258 674h1v1h-1zM259 674h1v1h-1zM260 674h1v1h-1zM261 674h1v1h-1zM262 674h1v1h-1zM263 674h1v1h-1zM264 674h1v1h-1zM265 674h1v1h-1zM266 674h1v1h-1zM267 674h1v1h-1zM268 674h1v2h-1zM269 674h1v2h-1zM270 674h1v1h-1zM271 674h1v1h-1zM272 674h1v1h-1zM273 674h1v1h-1zM274 674h1v2h-1zM275 674h1v2h-1zM276 674h1v1h-1zM277 674h1v1h-1zM278 674h1v2h-1zM279 674h1v2h-1zM280 674h1v1h-1zM281 674h1v1h-1zM282 674h1v2h-1zM283 674h1v2h-1zM284 674h1v1h-1zM285 674h1v2h-1zM286 675h1v1h-1zM287 674h1v2h-1zM288 674h1v1h-1zM289 674h1v2h-1zM290 674h1v2h-1zM291 674h1v1h-1zM292 674h1v1h-1zM293 674h1v1h-1zM294 674h1v1h-1zM295 674h1v1h-1zM296 674h1v1h-1zM297 674h1v2h-1zM298 675h1v1h-1zM299 674h1v2h-1zM300 674h1v1h-1zM301 674h1v2h-1zM302 674h1v2h-1zM303 674h1v1h-1zM304 674h1v2h-1zM305 674h1v2h-1zM306 674h1v2h-1zM307 674h1v2h-1zM308 674h1v1h-1zM309 674h1v1h-1zM310 674h1v1h-1zM311 674h1v2h-1zM312 674h1v2h-1zM313 674h1v1h-1zM314 674h1v2h-1zM315 674h1v2h-1zM316 674h1v1h-1zM317 674h1v1h-1zM318 674h1v2h-1zM319 674h1v2h-1zM320 674h1v1h-1zM321 674h1v2h-1zM322 675h1v1h-1zM323 674h1v2h-1zM324 674h1v2h-1zM325 674h1v2h-1zM326 674h1v2h-1zM327 674h1v2h-1zM328 674h1v1h-1zM329 674h1v2h-1zM330 675h1v1h-1zM331 675h1v1h-1zM332 674h1v2h-1zM333 674h1v2h-1zM334 674h1v2h-1zM335 674h1v1h-1zM336 674h1v2h-1zM337 675h1v1h-1zM338 675h1v1h-1zM339 675h1v1h-1zM340 675h1v1h-1zM341 674h1v2h-1zM342 674h1v1h-1zM343 674h1v2h-1zM344 674h1v2h-1zM345 674h1v1h-1zM346 674h1v1h-1zM347 674h1v2h-1zM348 675h1v1h-1zM349 674h1v2h-1zM350 674h1v2h-1zM351 675h1v1h-1zM352 675h1v1h-1zM353 674h1v2h-1zM354 674h1v1h-1zM355 674h1v2h-1zM356 674h1v2h-1zM357 674h1v2h-1zM358 675h1v1h-1zM359 674h1v2h-1zM360 674h1v2h-1zM361 674h1v2h-1zM362 674h1v1h-1zM363 674h1v2h-1zM364 674h1v2h-1zM365 674h1v2h-1zM366 674h1v2h-1zM367 674h1v1h-1zM368 674h1v1h-1zM369 674h1v2h-1zM370 675h1v1h-1zM371 675h1v1h-1zM372 675h1v1h-1zM373 675h1v1h-1zM374 675h1v1h-1zM375 675h1v1h-1zM376 674h1v2h-1zM377 674h1v2h-1zM378 674h1v2h-1zM379 674h1v1h-1zM380 674h1v2h-1zM381 675h1v1h-1zM382 674h1v2h-1zM383 674h1v2h-1zM384 675h1v1h-1zM385 675h1v1h-1zM386 675h1v1h-1zM387 675h1v1h-1zM388 675h1v1h-1zM389 675h1v1h-1zM390 675h1v1h-1zM391 675h1v1h-1zM392 674h1v2h-1zM393 674h1v2h-1zM394 675h1v1h-1zM395 675h1v1h-1zM396 675h1v1h-1zM397 675h1v1h-1zM398 675h1v1h-1zM399 675h1v1h-1zM400 675h1v1h-1zM401 675h1v1h-1zM402 675h1v1h-1zM403 675h1v1h-1zM404 675h1v1h-1zM405 675h1v1h-1zM406 675h1v1h-1zM407 675h1v1h-1zM408 675h1v1h-1zM409 675h1v1h-1zM410 675h1v1h-1zM411 675h1v1h-1zM412 675h1v1h-1zM413 675h1v1h-1zM414 675h1v1h-1zM415 675h1v1h-1zM416 675h1v1h-1zM417 675h1v1h-1zM418 675h1v1h-1zM419 675h1v1h-1zM420 675h1v1h-1zM421 675h1v1h-1zM422 675h1v1h-1zM423 675h1v1h-1zM424 675h1v1h-1zM425 675h1v1h-1zM426 675h1v1h-1zM427 675h1v1h-1zM428 675h1v1h-1zM429 675h1v2h-1zM430 676h1v1h-1zM431 676h1v1h-1zM432 676h1v1h-1zM433 676h1v1h-1zM434 676h1v1h-1zM435 676h1v1h-1zM436 676h1v1h-1zM437 676h1v1h-1zM438 676h1v1h-1zM439 676h1v1h-1zM440 676h1v1h-1zM441 676h1v1h-1zM442 676h1v1h-1zM443 676h1v1h-1zM444 676h1v1h-1zM445 676h1v1h-1zM446 676h1v1h-1zM447 676h1v1h-1zM448 676h1v1h-1zM449 676h1v1h-1zM450 676h1v1h-1zM451 676h1v1h-1zM452 676h1v1h-1zM453 676h1v1h-1zM454 676h1v1h-1zM455 676h1v1h-1zM456 676h1v1h-1zM457 676h1v1h-1zM458 676h1v1h-1zM459 676h1v1h-1zM460 676h1v1h-1zM461 676h1v1h-1zM462 676h1v1h-1zM463 676h1v1h-1zM464 676h1v1h-1zM465 676h1v1h-1zM466 676h1v1h-1zM467 676h1v1h-1zM468 676h1v1h-1zM469 676h1v1h-1zM470 676h1v1h-1zM471 676h1v1h-1zM472 676h1v1h-1zM473 676h1v1h-1zM474 676h1v1h-1zM475 676h1v1h-1zM476 676h1v1h-1zM477 676h1v1h-1zM478 676h1v1h-1zM479 676h1v1h-1zM480 676h1v2h-1zM481 677h1v1h-1zM482 677h1v1h-1zM483 677h1v1h-1zM484 677h1v1h-1zM485 677h1v1h-1zM486 677h1v1h-1z" fill="#000000"/>
<path d="M111 677h1v2h-1zM112 677h1v3h-1zM113 678h1v2h-1zM114 677h1v3h-1zM115 677h1v2h-1zM116 677h1v2h-1zM117 677h1v2h-1zM118 677h1v3h-1zM119 678h1v2h-1zM120 678h1v2h-1zM121 678h1v2h-1zM122 678h1v2h-1zM123 678h1v2h-1zM124 678h1v3h-1zM125 678h1v3h-1zM126 678h1v4h-1zM127 678h1v4h-1zM128 678h1v3h-1zM129 678h1v3h-1zM130 678h1v3h-1zM131 678h1v3h-1zM132 678h1v2h-1zM133 678h1v3h-1zM134 678h1v3h-1zM135 678h1v2h-1zM136 678h1v4h-1zM137 679h1v3h-1zM138 678h1v3h-1zM139 678h1v4h-1zM140 680h1v2h-1zM141 678h1v4h-1zM142 678h1v3h-1zM143 678h1v3h-1zM144 678h1v2h-1zM145 678h1v3h-1zM146 678h1v3h-1zM147 678h1v3h-1zM148 678h1v3h-1zM149 678h1v2h-1zM150 678h1v3h-1zM151 678h1v3h-1zM152 678h1v2h-1zM153 677h1v3h-1zM154 677h1v2h-1zM155 676h1v3h-1zM156 675h1v3h-1zM157 675h1v3h-1zM158 676h1v2h-1zM159 675h1v3h-1zM160 675h1v3h-1zM161 676h1v2h-1zM162 676h1v3h-1zM163 677h1v3h-1zM164 678h1v3h-1zM165 678h1v3h-1zM166 678h1v3h-1zM167 679h1v2h-1zM168 679h1v2h-1zM169 679h1v3h-1zM170 679h1v3h-1zM171 678h1v3h-1zM172 678h1v4h-1zM173 680h1v2h-1zM174 680h1v2h-1zM175 680h1v2h-1zM176 680h1v2h-1zM177 680h1v2h-1zM178 680h1v2h-1zM179 678h1v4h-1zM180 678h1v3h-1zM181 678h1v3h-1zM182 678h1v2h-1zM183 677h1v3h-1zM184 677h1v2h-1zM185 677h1v3h-1zM186 678h1v2h-1zM187 677h1v3h-1zM188 677h1v3h-1zM189 678h1v2h-1zM190 678h1v2h-1zM191 678h1v3h-1zM192 679h1v3h-1zM193 680h1v2h-1zM194 680h1v3h-1zM195 680h1v3h-1zM196 680h1v4h-1zM197 681h1v3h-1zM198 681h1v2h-1zM199 681h1v4h-1zM200 683h1v2h-1zM201 682h1v3h-1zM202 682h1v2h-1zM203 682h1v3h-1zM204 681h1v4h-1zM205 680h1v3h-1zM206 679h1v3h-1zM207 679h1v2h-1zM208 679h1v3h-1zM209 680h1v3h-1zM210 680h1v3h-1zM211 679h1v3h-1zM212 678h1v3h-1zM213 678h1v2h-1zM214 678h1v2h-1zM215 677h1v3h-1zM216 676h1v3h-1zM217 675h1v3h-1zM218 675h1v3h-1zM219 675h1v3h-1zM220 675h1v3h-1zM221 675h1v3h-1zM222 675h1v3h-1zM223 676h1v2h-1zM224 674h1v4h-1zM225 674h1v2h-1zM226 674h1v3h-1zM227 674h1v3h-1zM228 674h1v3h-1zM229 675h1v2h-1zM230 675h1v2h-1zM231 675h1v2h-1zM232 675h1v2h-1zM233 675h1v2h-1zM234 675h1v2h-1zM235 675h1v3h-1zM236 676h1v2h-1zM237 675h1v3h-1zM238 675h1v3h-1zM239 675h1v3h-1zM240 675h1v2h-1zM241 675h1v3h-1zM242 676h1v3h-1zM243 676h1v3h-1zM244 676h1v3h-1zM245 677h1v2h-1zM246 677h1v3h-1zM247 678h1v2h-1zM248 678h1v2h-1zM249 678h1v3h-1zM250 679h1v3h-1zM251 680h1v2h-1zM252 680h1v2h-1zM253 679h1v3h-1zM254 679h1v2h-1zM255 679h1v3h-1zM256 679h1v3h-1zM257 677h1v4h-1zM258 677h1v2h-1zM259 677h1v2h-1zM260 677h1v2h-1zM261 677h1v2h-1zM262 677h1v2h-1zM263 677h1v2h-1zM264 677h1v4h-1zM265 679h1v2h-1zM266 679h1v2h-1zM267 679h1v2h-1zM268 679h1v2h-1zM269 679h1v3h-1zM270 680h1v2h-1zM271 679h1v3h-1zM272 678h1v3h-1zM273 676h1v4h-1zM274 676h1v2h-1zM275 676h1v2h-1zM276 675h1v3h-1zM277 675h1v2h-1zM278 675h1v2h-1zM279 675h1v2h-1zM280 675h1v3h-1zM281 675h1v3h-1zM282 675h1v2h-1zM283 675h1v3h-1zM284 676h1v3h-1zM285 677h1v2h-1zM286 677h1v2h-1zM287 677h1v2h-1zM288 676h1v3h-1zM289 675h1v3h-1zM290 675h1v2h-1zM291 675h1v2h-1zM292 675h1v2h-1zM293 675h1v3h-1zM294 675h1v3h-1zM295 675h1v2h-1zM296 675h1v2h-1zM297 675h1v3h-1zM298 675h1v3h-1zM299 675h1v2h-1zM300 675h1v2h-1zM301 675h1v2h-1zM302 675h1v2h-1zM303 675h1v2h-1zM304 675h1v3h-1zM305 676h1v2h-1zM306 676h1v2h-1zM307 675h1v3h-1zM308 675h1v3h-1zM309 676h1v2h-1zM310 676h1v3h-1zM311 676h1v3h-1zM312 676h1v3h-1zM313 677h1v2h-1zM314 677h1v2h-1zM315 677h1v2h-1zM316 677h1v2h-1zM317 677h1v3h-1zM318 677h1v3h-1zM319 677h1v3h-1zM320 678h1v2h-1zM321 678h1v3h-1zM322 678h1v3h-1zM323 678h1v2h-1zM324 678h1v2h-1zM325 678h1v3h-1zM326 679h1v2h-1zM327 679h1v2h-1zM328 679h1v2h-1zM329 678h1v3h-1zM330 677h1v3h-1zM331 677h1v2h-1zM332 677h1v2h-1zM333 676h1v3h-1zM334 675h1v3h-1zM335 675h1v3h-1zM336 676h1v2h-1zM337 676h1v3h-1zM338 677h1v2h-1zM339 677h1v2h-1zM340 677h1v3h-1zM341 678h1v3h-1zM342 678h1v3h-1zM343 677h1v3h-1zM344 677h1v3h-1zM345 678h1v2h-1zM346 677h1v3h-1zM347 677h1v2h-1zM348 676h1v3h-1zM349 676h1v2h-1zM350 675h1v3h-1zM351 675h1v3h-1zM352 676h1v3h-1zM353 677h1v3h-1zM354 678h1v2h-1zM355 678h1v3h-1zM356 677h1v4h-1zM357 676h1v3h-1zM358 676h1v2h-1zM359 676h1v4h-1zM360 678h1v2h-1zM361 677h1v3h-1zM362 677h1v4h-1zM363 679h1v2h-1zM364 679h1v2h-1zM365 678h1v3h-1zM366 678h1v3h-1zM367 678h1v3h-1zM368 677h1v3h-1zM369 677h1v3h-1zM370 677h1v3h-1zM371 676h1v3h-1zM372 676h1v3h-1zM373 676h1v3h-1zM374 676h1v2h-1zM375 676h1v2h-1zM376 676h1v2h-1zM377 676h1v2h-1zM378 676h1v3h-1zM379 676h1v3h-1zM380 676h1v2h-1zM381 676h1v2h-1zM382 676h1v2h-1zM383 676h1v3h-1zM384 677h1v2h-1zM385 676h1v3h-1zM386 676h1v3h-1zM387 677h1v2h-1zM388 676h1v3h-1zM389 676h1v3h-1zM390 677h1v2h-1zM391 677h1v2h-1zM392 677h1v2h-1zM393 677h1v2h-1zM394 676h1v3h-1zM395 676h1v3h-1zM396 676h1v3h-1zM397 676h1v2h-1zM398 676h1v2h-1zM399 676h1v2h-1zM400 675h1v3h-1zM401 675h1v3h-1zM402 675h1v3h-1zM403 675h1v3h-1zM404 676h1v2h-1zM405 676h1v2h-1zM406 676h1v2h-1zM407 676h1v2h-1zM408 676h1v2h-1zM409 676h1v4h-1zM410 678h1v3h-1zM411 678h1v3h-1zM412 676h1v4h-1zM413 676h1v2h-1zM414 675h1v3h-1zM415 675h1v2h-1zM416 675h1v2h-1zM417 675h1v2h-1zM418 675h1v3h-1zM419 676h1v2h-1zM420 676h1v3h-1zM421 677h1v2h-1zM422 677h1v3h-1zM423 678h1v2h-1zM424 678h1v2h-1zM425 678h1v2h-1zM426 676h1v4h-1zM427 676h1v2h-1zM428 676h1v3h-1zM429 677h1v2h-1zM430 676h1v3h-1zM431 676h1v4h-1zM432 677h1v3h-1zM433 677h1v3h-1zM434 678h1v2h-1zM435 678h1v2h-1zM436 677h1v3h-1zM437 677h1v3h-1zM438 678h1v3h-1zM439 679h1v3h-1zM440 680h1v3h-1zM441 681h1v2h-1zM442 680h1v3h-1zM443 680h1v2h-1zM444 680h1v3h-1zM445 680h1v3h-1zM446 680h1v2h-1zM447 680h1v2h-1zM448 680h1v3h-1zM449 681h1v3h-1zM450 682h1v2h-1zM451 682h1v3h-1zM452 683h1v2h-1zM453 682h1v3h-1zM454 682h1v2h-1zM455 682h1v3h-1zM456 683h1v3h-1zM457 683h1v3h-1zM458 683h1v2h-1zM459 683h1v3h-1zM460 684h1v2h-1zM461 684h1v2h-1zM462 684h1v2h-1zM463 684h1v2h-1zM464 684h1v3h-1zM465 684h1v3h-1zM466 684h1v2h-1zM467 684h1v3h-1zM468 684h1v3h-1zM469 683h1v3h-1zM470 682h1v3h-1zM471 680h1v4h-1zM472 680h1v2h-1zM473 679h1v3h-1zM474 677h1v4h-1zM475 677h1v3h-1zM476 678h1v2h-1zM477 678h1v2h-1zM478 677h1v3h-1zM479 677h1v2h-1zM480 677h1v2h-1zM481 677h1v3h-1zM482 677h1v3h-1zM483 677h1v2h-1zM484 676h1v3h-1zM485 676h1v2h-1zM486 676h1v2h-1z" fill="#ff0000"/>
<path d="M111 692h1v2h-1zM112 692h1v3h-1zM113 693h1v2h-1zM114 693h1v3h-1zM115 693h1v3h-1zM116 693h1v2h-1zM117 693h1v2h-1zM118 693h1v2h-1zM119 693h1v3h-1zM120 693h1v3h-1zM121 693h1v3h-1zM122 693h1v3h-1zM123 693h1v2h-1zM124 693h1v2h-1zM125 693h1v3h-1zM126 694h1v2h-1zM127 693h1v3h-1zM128 693h1v2h-1zM129 693h1v2h-1zM130 693h1v3h-1zM131 694h1v2h-1zM132 694h1v2h-1zM133 694h1v2h-1zM134 694h1v2h-1zM135 694h1v2h-1zM136 694h1v2h-1zM137 693h1v3h-1zM138 693h1v3h-1zM139 693h1v3h-1zM140 693h1v3h-1zM141 693h1v3h-1zM142 692h1v3h-1zM143 691h1v3h-1zM144 690h1v3h-1zM145 690h1v2h-1zM146 689h1v3h-1zM147 689h1v4h-1zM148 690h1v3h-1zM149 690h1v3h-1zM150 690h1v3h-1zM151 689h1v3h-1zM152 689h1v3h-1zM153 689h1v3h-1zM154 689h1v2h-1zM155 689h1v2h-1zM156 688h1v3h-1zM157 688h1v2h-1zM158 688h1v3h-1zM159 688h1v3h-1zM160 688h1v2h-1zM161 688h1v3h-1zM162 689h1v2h-1zM163 688h1v3h-1zM164 688h1v3h-1zM165 689h1v2h-1zM166 689h1v2h-1zM167 689h1v2h-1zM168 689h1v2h-1zM169 688h1v3h-1zM170 688h1v3h-1zM171 689h1v2h-1zM172 689h1v2h-1zM173 689h1v2h-1zM174 689h1v3h-1zM175 689h1v3h-1zM176 689h1v2h-1zM177 689h1v3h-1zM178 690h1v3h-1zM179 691h1v2h-1zM180 690h1v3h-1zM181 690h1v2h-1zM182 690h1v3h-1zM183 691h1v2h-1zM184 691h1v2h-1zM185 690h1v3h-1zM186 690h1v3h-1zM187 690h1v3h-1zM188 690h1v3h-1zM189 690h1v3h-1zM190 690h1v3h-1zM191 691h1v2h-1zM192 691h1v2h-1zM193 691h1v2h-1zM194 691h1v3h-1zM195 692h1v2h-1zM196 692h1v2h-1zM197 692h1v2h-1zM198 692h1v3h-1zM199 692h1v3h-1zM200 691h1v3h-1zM201 691h1v2h-1zM202 691h1v3h-1zM203 691h1v3h-1zM204 691h1v2h-1zM205 691h1v2h-1zM206 691h1v3h-1zM207 692h1v2h-1zM208 692h1v2h-1zM209 691h1v3h-1zM210 691h1v2h-1zM211 691h1v2h-1zM212 689h1v4h-1zM213 689h1v2h-1zM214 689h1v2h-1zM215 686h1v5h-1zM216 686h1v2h-1zM217 686h1v2h-1zM218 686h1v4h-1zM219 688h1v3h-1zM220 681h1v10h-1zM221 680h1v3h-1zM222 680h1v2h-1zM223 679h1v3h-1zM224 679h1v4h-1zM225 681h1v2h-1zM226 681h1v5h-1zM227 684h1v2h-1zM228 684h1v3h-1zM229 685h1v4h-1zM230 687h1v3h-1zM231 687h1v3h-1zM232 687h1v2h-1zM233 687h1v2h-1zM234 687h1v3h-1zM235 688h1v3h-1zM236 689h1v3h-1zM237 690h1v3h-1zM238 690h1v3h-1zM239 690h1v2h-1zM240 689h1v3h-1zM241 688h1v3h-1zM242 687h1v3h-1zM243 686h1v3h-1zM244 686h1v2h-1zM245 685h1v3h-1zM246 685h1v4h-1zM247 687h1v2h-1zM248 687h1v5h-1zM249 690h1v2h-1zM250 690h1v2h-1zM251 690h1v3h-1zM252 691h1v2h-1zM253 691h1v3h-1zM254 692h1v2h-1zM255 692h1v2h-1zM256 692h1v2h-1zM257 692h1v2h-1zM258 692h1v2h-1zM259 692h1v3h-1zM260 692h1v3h-1zM261 692h1v2h-1zM262 691h1v3h-1zM263 690h1v3h-1zM264 690h1v2h-1zM265 689h1v3h-1zM266 689h1v2h-1zM267 689h1v2h-1zM268 689h1v2h-1zM269 689h1v3h-1zM270 690h1v2h-1zM271 689h1v3h-1zM272 689h1v4h-1zM273 691h1v2h-1zM274 691h1v3h-1zM275 692h1v2h-1zM276 692h1v3h-1zM277 692h1v3h-1zM278 691h1v3h-1zM279 690h1v3h-1zM280 690h1v2h-1zM281 690h1v3h-1zM282 689h1v4h-1zM283 689h1v3h-1zM284 689h1v3h-1zM285 689h1v2h-1zM286 689h1v3h-1zM287 688h1v4h-1zM288 688h1v3h-1zM289 688h1v3h-1zM290 688h1v2h-1zM291 688h1v2h-1zM292 688h1v2h-1zM293 687h1v3h-1zM294 687h1v3h-1zM295 688h1v2h-1zM296 688h1v2h-1zM297 688h1v3h-1zM298 687h1v4h-1zM299 687h1v3h-1zM300 688h1v3h-1zM301 689h1v2h-1zM302 689h1v2h-1zM303 689h1v2h-1zM304 689h1v3h-1zM305 689h1v3h-1zM306 689h1v2h-1zM307 689h1v2h-1zM308 689h1v2h-1zM309 689h1v3h-1zM310 689h1v3h-1zM311 689h1v3h-1zM312 690h1v3h-1zM313 691h1v2h-1zM314 691h1v2h-1zM315 690h1v3h-1zM316 690h1v2h-1zM317 690h1v3h-1zM318 691h1v2h-1zM319 690h1v3h-1zM320 690h1v3h-1zM321 690h1v3h-1zM322 690h1v2h-1zM323 690h1v3h-1zM324 690h1v3h-1zM325 690h1v2h-1zM326 690h1v3h-1zM327 690h1v3h-1zM328 689h1v3h-1zM329 689h1v2h-1zM330 689h1v2h-1zM331 689h1v2h-1zM332 689h1v4h-1zM333 690h1v3h-1zM334 690h1v3h-1zM335 691h1v2h-1zM336 690h1v3h-1zM337 690h1v3h-1zM338 690h1v3h-1zM339 690h1v2h-1zM340 689h1v3h-1zM341 689h1v2h-1zM342 689h1v3h-1zM343 689h1v3h-1zM344 688h1v3h-1zM345 688h1v2h-1zM346 688h1v3h-1zM347 688h1v3h-1zM348 688h1v3h-1zM349 688h1v3h-1zM350 688h1v4h-1zM351 689h1v3h-1zM352 689h1v2h-1zM353 689h1v3h-1zM354 690h1v2h-1zM355 690h1v3h-1zM356 690h1v3h-1zM357 690h1v3h-1zM358 690h1v3h-1zM359 689h1v3h-1zM360 689h1v2h-1zM361 689h1v2h-1zM362 689h1v3h-1zM363 690h1v3h-1zM364 690h1v3h-1zM365 690h1v4h-1zM366 691h1v3h-1zM367 691h1v2h-1zM368 690h1v3h-1zM369 689h1v3h-1zM370 689h1v3h-1zM371 690h1v2h-1zM372 688h1v4h-1zM373 688h1v2h-1zM374 688h1v2h-1zM375 688h1v2h-1zM376 688h1v2h-1zM377 687h1v3h-1zM378 687h1v3h-1zM379 688h1v2h-1zM380 687h1v3h-1zM381 687h1v2h-1zM382 687h1v2h-1zM383 687h1v4h-1zM384 689h1v2h-1zM385 689h1v3h-1zM386 690h1v2h-1zM387 689h1v3h-1zM388 689h1v3h-1zM389 690h1v2h-1zM390 690h1v2h-1zM391 690h1v2h-1zM392 690h1v2h-1zM393 690h1v2h-1zM394 690h1v2h-1zM395 690h1v2h-1zM396 689h1v3h-1zM397 689h1v2h-1zM398 689h1v3h-1zM399 690h1v2h-1zM400 689h1v3h-1zM401 689h1v2h-1zM402 688h1v3h-1zM403 688h1v2h-1zM404 687h1v3h-1zM405 687h1v2h-1zM406 686h1v3h-1zM407 686h1v2h-1zM408 685h1v3h-1zM409 685h1v4h-1zM410 687h1v2h-1zM411 687h1v4h-1zM412 689h1v2h-1zM413 689h1v3h-1zM414 690h1v2h-1zM415 690h1v3h-1zM416 691h1v2h-1zM417 689h1v4h-1zM418 688h1v3h-1zM419 688h1v2h-1zM420 688h1v3h-1zM421 688h1v3h-1zM422 688h1v2h-1zM423 687h1v3h-1zM424 686h1v3h-1zM425 685h1v3h-1zM426 685h1v2h-1zM427 685h1v2h-1zM428 685h1v2h-1zM429 684h1v3h-1zM430 684h1v2h-1zM431 684h1v3h-1zM432 685h1v2h-1zM433 685h1v2h-1zM434 685h1v2h-1zM435 685h1v5h-1zM436 688h1v3h-1zM437 688h1v3h-1zM438 688h1v2h-1zM439 688h1v3h-1zM440 688h1v3h-1zM441 688h1v2h-1zM442 688h1v2h-1zM443 688h1v2h-1zM444 688h1v2h-1zM445 688h1v2h-1zM446 688h1v2h-1zM447 688h1v2h-1zM448 688h1v3h-1zM449 688h1v3h-1zM450 688h1v2h-1zM451 688h1v3h-1zM452 689h1v2h-1zM453 689h1v2h-1zM454 689h1v2h-1zM455 689h1v2h-1zM456 689h1v2h-1zM457 689h1v2h-1zM458 688h1v3h-1zM459 688h1v2h-1zM460 688h1v3h-1zM461 688h1v3h-1zM462 688h1v2h-1zM463 688h1v2h-1zM464 687h1v3h-1zM465 687h1v3h-1zM466 687h1v3h-1zM467 687h1v2h-1zM468 687h1v2h-1zM469 687h1v2h-1zM470 687h1v3h-1zM471 687h1v3h-1zM472 687h1v2h-1zM473 686h1v3h-1zM474 686h1v2h-1zM475 684h1v4h-1zM476 684h1v3h-1zM477 684h1v3h-1zM478 684h1v3h-1zM479 685h1v2h-1zM480 684h1v3h-1zM481 684h1v3h-1zM482 683h1v4h-1zM483 683h1v2h-1zM484 682h1v3h-1zM485 682h1v2h-1zM486 682h1v2h-1z" fill="#00ff00"/>
<path d="M111 680h1v2h-1zM112 680h1v4h-1zM113 682h1v3h-1zM114 683h1v2h-1zM115 682h1v3h-1zM116 682h1v2h-1zM117 682h1v3h-1zM118 683h1v2h-1zM119 682h1v3h-1zM120 682h1v3h-1zM121 682h1v3h-1zM122 681h1v3h-1zM123 678h1v5h-1zM124 676h1v4h-1zM125 676h1v4h-1zM126 678h1v2h-1zM127 678h1v2h-1zM128 678h1v3h-1zM129 679h1v2h-1zM130 678h1v3h-1zM131 678h1v4h-1zM132 680h1v2h-1zM133 680h1v2h-1zM134 680h1v4h-1zM135 681h1v3h-1zM136 681h1v3h-1zM137 682h1v3h-1zM138 683h1v3h-1zM139 684h1v5h-1zM140 687h1v2h-1zM141 687h1v4h-1zM142 689h1v2h-1zM143 689h1v3h-1zM144 690h1v3h-1zM145 690h1v3h-1zM146 688h1v4h-1zM147 688h1v2h-1zM148 688h1v2h-1zM149 685h1v5h-1zM150 683h1v4h-1zM151 683h1v2h-1zM152 678h1v7h-1zM153 674h1v6h-1zM154 674h1v5h-1zM155 677h1v7h-1zM156 682h1v3h-1zM157 682h1v3h-1zM158 680h1v4h-1zM159 680h1v3h-1zM160 679h1v4h-1zM161 679h1v3h-1zM162 680h1v2h-1zM163 680h1v5h-1zM164 683h1v2h-1zM165 683h1v4h-1zM166 685h1v2h-1zM167 685h1v4h-1zM168 687h1v4h-1zM169 688h1v3h-1zM170 687h1v3h-1zM171 686h1v3h-1zM172 686h1v3h-1zM173 687h1v2h-1zM174 686h1v3h-1zM175 686h1v3h-1zM176 687h1v2h-1zM177 687h1v3h-1zM178 688h1v2h-1zM179 686h1v4h-1zM180 686h1v2h-1zM181 686h1v2h-1zM182 685h1v3h-1zM183 683h1v4h-1zM184 683h1v4h-1zM185 685h1v3h-1zM186 685h1v3h-1zM187 685h1v2h-1zM188 685h1v3h-1zM189 686h1v3h-1zM190 686h1v3h-1zM191 686h1v2h-1zM192 686h1v2h-1zM193 686h1v3h-1zM194 687h1v2h-1zM195 687h1v2h-1zM196 687h1v4h-1zM197 689h1v2h-1zM198 688h1v3h-1zM199 688h1v2h-1zM200 686h1v4h-1zM201 685h1v3h-1zM202 685h1v3h-1zM203 685h1v3h-1zM204 685h1v2h-1zM205 684h1v3h-1zM206 684h1v3h-1zM207 684h1v3h-1zM208 684h1v2h-1zM209 684h1v4h-1zM210 684h1v4h-1zM211 684h1v2h-1zM212 684h1v2h-1zM213 684h1v2h-1zM214 684h1v2h-1zM215 684h1v3h-1zM216 682h1v5h-1zM217 680h1v4h-1zM218 678h1v4h-1zM219 676h1v4h-1zM220 675h1v3h-1zM221 675h1v5h-1zM222 678h1v6h-1zM223 676h1v8h-1zM224 676h1v3h-1zM225 677h1v5h-1zM226 679h1v3h-1zM227 679h1v2h-1zM228 678h1v3h-1zM229 678h1v3h-1zM230 679h1v2h-1zM231 679h1v2h-1zM232 679h1v4h-1zM233 680h1v3h-1zM234 680h1v2h-1zM235 680h1v2h-1zM236 680h1v2h-1zM237 680h1v2h-1zM238 680h1v3h-1zM239 680h1v3h-1zM240 680h1v2h-1zM241 680h1v2h-1zM242 680h1v3h-1zM243 680h1v3h-1zM244 680h1v3h-1zM245 680h1v3h-1zM246 680h1v4h-1zM247 682h1v4h-1zM248 683h1v3h-1zM249 683h1v2h-1zM250 682h1v3h-1zM251 682h1v3h-1zM252 681h1v4h-1zM253 681h1v3h-1zM254 680h1v4h-1zM255 680h1v2h-1zM256 680h1v2h-1zM257 678h1v4h-1zM258 678h1v5h-1zM259 681h1v3h-1zM260 682h1v3h-1zM261 682h1v3h-1zM262 682h1v3h-1zM263 683h1v2h-1zM264 683h1v3h-1zM265 684h1v3h-1zM266 685h1v2h-1zM267 682h1v5h-1zM268 682h1v3h-1zM269 683h1v2h-1zM270 682h1v3h-1zM271 681h1v3h-1zM272 681h1v5h-1zM273 683h1v3h-1zM274 683h1v5h-1zM275 686h1v3h-1zM276 687h1v3h-1zM277 688h1v2h-1zM278 687h1v3h-1zM279 687h1v3h-1zM280 686h1v4h-1zM281 685h1v3h-1zM282 685h1v2h-1zM283 685h1v3h-1zM284 686h1v2h-1zM285 686h1v3h-1zM286 687h1v3h-1zM287 686h1v4h-1zM288 686h1v2h-1zM289 685h1v3h-1zM290 685h1v3h-1zM291 684h1v4h-1zM292 684h1v3h-1zM293 685h1v2h-1zM294 683h1v4h-1zM295 683h1v4h-1zM296 683h1v4h-1zM297 683h1v4h-1zM298 684h1v3h-1zM299 684h1v2h-1zM300 684h1v2h-1zM301 683h1v3h-1zM302 683h1v2h-1zM303 682h1v3h-1zM304 682h1v4h-1zM305 681h1v5h-1zM306 680h1v3h-1zM307 680h1v4h-1zM308 682h1v2h-1zM309 682h1v2h-1zM310 682h1v4h-1zM311 682h1v4h-1zM312 682h1v3h-1zM313 682h1v3h-1zM314 682h1v3h-1zM315 681h1v4h-1zM316 681h1v3h-1zM317 682h1v3h-1zM318 683h1v3h-1zM319 684h1v2h-1zM320 684h1v2h-1zM321 684h1v3h-1zM322 684h1v3h-1zM323 684h1v3h-1zM324 685h1v3h-1zM325 686h1v3h-1zM326 685h1v4h-1zM327 684h1v3h-1zM328 683h1v3h-1zM329 681h1v4h-1zM330 681h1v2h-1zM331 681h1v3h-1zM332 682h1v4h-1zM333 684h1v4h-1zM334 685h1v3h-1zM335 685h1v2h-1zM336 685h1v3h-1zM337 686h1v2h-1zM338 684h1v4h-1zM339 684h1v4h-1zM340 686h1v2h-1zM341 686h1v2h-1zM342 686h1v3h-1zM343 687h1v2h-1zM344 686h1v3h-1zM345 685h1v3h-1zM346 684h1v3h-1zM347 684h1v2h-1zM348 682h1v4h-1zM349 682h1v2h-1zM350 682h1v3h-1zM351 683h1v2h-1zM352 683h1v4h-1zM353 685h1v2h-1zM354 685h1v3h-1zM355 685h1v3h-1zM356 684h1v3h-1zM357 683h1v3h-1zM358 683h1v2h-1zM359 683h1v3h-1zM360 684h1v4h-1zM361 684h1v4h-1zM362 684h1v3h-1zM363 683h1v4h-1zM364 683h1v3h-1zM365 683h1v3h-1zM366 682h1v3h-1zM367 682h1v4h-1zM368 684h1v3h-1zM369 685h1v2h-1zM370 685h1v3h-1zM371 686h1v2h-1zM372 686h1v4h-1zM373 686h1v4h-1zM374 686h1v3h-1zM375 685h1v4h-1zM376 685h1v3h-1zM377 685h1v3h-1zM378 685h1v2h-1zM379 685h1v2h-1zM380 685h1v3h-1zM381 684h1v4h-1zM382 684h1v2h-1zM383 684h1v2h-1zM384 683h1v3h-1zM385 682h1v3h-1zM386 682h1v2h-1zM387 682h1v3h-1zM388 683h1v2h-1zM389 682h1v3h-1zM390 682h1v3h-1zM391 683h1v2h-1zM392 682h1v3h-1zM393 680h1v4h-1zM394 680h1v2h-1zM395 680h1v2h-1zM396 679h1v3h-1zM397 679h1v3h-1zM398 680h1v3h-1zM399 680h1v3h-1zM400 680h1v4h-1zM401 680h1v4h-1zM402 680h1v2h-1zM403 680h1v2h-1zM404 678h1v4h-1zM405 678h1v3h-1zM406 678h1v3h-1zM407 678h1v2h-1zM408 678h1v3h-1zM409 679h1v2h-1zM410 679h1v7h-1zM411 684h1v6h-1zM412 684h1v6h-1zM413 684h1v3h-1zM414 685h1v2h-1zM415 682h1v5h-1zM416 682h1v8h-1zM417 681h1v9h-1zM418 681h1v2h-1zM419 680h1v3h-1zM420 680h1v3h-1zM421 680h1v3h-1zM422 679h1v3h-1zM423 678h1v3h-1zM424 678h1v3h-1zM425 678h1v3h-1zM426 678h1v3h-1zM427 678h1v3h-1zM428 678h1v3h-1zM429 678h1v3h-1zM430 678h1v3h-1zM431 679h1v2h-1zM432 679h1v2h-1zM433 678h1v3h-1zM434 678h1v2h-1zM435 678h1v3h-1zM436 678h1v3h-1zM437 678h1v7h-1zM438 682h1v3h-1zM439 682h1v2h-1zM440 682h1v3h-1zM441 683h1v3h-1zM442 684h1v2h-1zM443 684h1v2h-1zM444 683h1v3h-1zM445 683h1v3h-1zM446 683h1v3h-1zM447 683h1v2h-1zM448 683h1v3h-1zM449 684h1v3h-1zM450 685h1v3h-1zM451 686h1v3h-1zM452 687h1v3h-1zM453 688h1v2h-1zM454 688h1v2h-1zM455 687h1v3h-1zM456 687h1v2h-1zM457 687h1v4h-1zM458 687h1v4h-1zM459 687h1v2h-1zM460 687h1v3h-1zM461 688h1v2h-1zM462 688h1v3h-1zM463 689h1v2h-1zM464 689h1v2h-1zM465 688h1v3h-1zM466 688h1v3h-1zM467 688h1v3h-1zM468 688h1v2h-1zM469 687h1v3h-1zM470 687h1v2h-1zM471 686h1v3h-1zM472 685h1v3h-1zM473 685h1v2h-1zM474 682h1v5h-1zM475 681h1v3h-1zM476 681h1v2h-1zM477 680h1v3h-1zM478 679h1v3h-1zM479 679h1v2h-1zM480 679h1v2h-1zM481 678h1v3h-1zM482 678h1v3h-1zM483 679h1v2h-1zM484 678h1v3h-1zM485 678h1v3h-1zM486 679h1v2h-1z" fill="#0000ff"/>
<path d="M111 531h1v2h-1zM112 529h1v4h-1zM113 529h1v5h-1zM114 531h1v3h-1zM115 531h1v7h-1zM116 531h1v7h-1zM117 531h1v8h-1zM118 537h1v2h-1zM119 535h1v4h-1zM120 535h1v4h-1zM121 525h1v14h-1zM122 525h1v16h-1zM123 539h1v4h-1zM124 541h1v5h-1zM125 544h1v4h-1zM126 546h1v4h-1zM127 548h1v6h-1zM128 552h1v4h-1zM129 552h1v4h-1zM130 543h1v11h-1zM131 543h1v10h-1zM132 546h1v7h-1zM133 542h1v6h-1zM134 542h1v5h-1zM135 545h1v4h-1zM136 542h1v7h-1zM137 542h1v5h-1zM138 539h1v8h-1zM139 539h1v8h-1zM140 539h1v8h-1zM141 536h1v5h-1zM142 536h1v2h-1zM143 536h1v7h-1zM144 541h1v7h-1zM145 546h1v7h-1zM146 548h1v5h-1zM147 543h1v7h-1z" fill="#000000"/>
<rect x="111" y="796" width="376" height="1" fill="#000"/>
<rect x="111" y="795" width="1" height="1" fill="#000"/>
<rect x="112" y="795" width="1" height="1" fill="#000"/>
<rect x="113" y="795" width="1" height="1" fill="#000"/>
<rect x="114" y="795" width="1" height="1" fill="#000"/>
<rect x="115" y="795" width="1" height="1" fill="#000"/>
<rect x="116" y="795" width="1" height="1" fill="#000"/>
<rect x="117" y="795" width="1" height="1" fill="#000"/>
<rect x="118" y="795" width="1" height="1" fill="#000"/>
<rect x="119" y="795" width="1" height="1" fill="#000"/>
<rect x="120" y="795" width="1" height="1" fill="#000"/>
<rect x="121" y="795" width="1" height="1" fill="#000"/>
<rect x="122" y="795" width="1" height="1" fill="#000"/>
<rect x="123" y="795" width="1" height="1" fill="#000"/>
<rect x="124" y="795" width="1" height="1" fill="#000"/>
<rect x="127" y="795" width="1" height="1" fill="#000"/>
<rect x="130" y="795" width="1" height="1" fill="#000"/>
<rect x="131" y="795" width="1" height="1" fill="#000"/>
<rect x="132" y="795" width="1" height="1" fill="#000"/>
<rect x="133" y="795" width="1" height="1" fill="#000"/>
<rect x="134" y="795" width="1" height="1" fill="#000"/>
<rect x="135" y="795" width="1" height="1" fill="#000"/>
<rect x="136" y="795" width="1" height="1" fill="#000"/>
<rect x="137" y="795" width="1" height="1" fill="#000"/>
<rect x="139" y="795" width="1" height="1" fill="#000"/>
<rect x="140" y="795" width="1" height="1" fill="#000"/>
<rect x="141" y="795" width="1" height="1" fill="#000"/>
<rect x="143" y="795" width="1" height="1" fill="#000"/>
<rect x="144" y="795" width="1" height="1" fill="#000"/>
<rect x="148" y="795" width="1" height="1" fill="#000"/>
<rect x="149" y="795" width="1" height="1" fill="#000"/>
<rect x="150" y="795" width="1" height="1" fill="#000"/>
<rect x="151" y="795" width="1" height="1" fill="#000"/>
<rect x="152" y="795" width="1" height="1" fill="#000"/>
<rect x="153" y="795" width="1" height="1" fill="#000"/>
<rect x="154" y="795" width="1" height="1" fill="#000"/>
<rect x="155" y="795" width="1" height="1" fill="#000"/>
<rect x="156" y="795" width="1" height="1" fill="#000"/>
<rect x="158" y="795" width="1" height="1" fill="#000"/>
<rect x="160" y="795" width="1" height="1" fill="#000"/>
<rect x="162" y="795" width="1" height="1" fill="#000"/>
<rect x="163" y="795" width="1" height="1" fill="#000"/>
<rect x="164" y="795" width="1" height="1" fill="#000"/>
<rect x="165" y="795" width="1" height="1" fill="#000"/>
<rect x="166" y="795" width="1" height="1" fill="#000"/>
<rect x="167" y="795" width="1" height="1" fill="#000"/>
<rect x="168" y="795" width="1" height="1" fill="#000"/>
<rect x="169" y="795" width="1" height="1" fill="#000"/>
<rect x="170" y="795" width="1" height="1" fill="#000"/>
<rect x="171" y="795" width="1" height="1" fill="#000"/>
<rect x="172" y="795" width="1" height="1" fill="#000"/>
<rect x="173" y="795" width="1" height="1" fill="#000"/>
<rect x="174" y="795" width="1" height="1" fill="#000"/>
<rect x="177" y="795" width="1" height="1" fill="#000"/>
<rect x="179" y="795" width="1" height="1" fill="#000"/>
<rect x="180" y="795" width="1" height="1" fill="#000"/>
<rect x="181" y="795" width="1" height="1" fill="#000"/>
<rect x="182" y="795" width="1" height="1" fill="#000"/>
<rect x="183" y="795" width="1" height="1" fill="#000"/>
<rect x="184" y="795" width="1" height="1" fill="#000"/>
<rect x="186" y="795" width="1" height="1" fill="#000"/>
<rect x="187" y="795" width="1" height="1" fill="#000"/>
<rect x="190" y="795" width="1" height="1" fill="#000"/>
<rect x="191" y="795" width="1" height="1" fill="#000"/>
<rect x="192" y="795" width="1" height="1" fill="#000"/>
<rect x="193" y="795" width="1" height="1" fill="#000"/>
<rect x="194" y="795" width="1" height="1" fill="#000"/>
<rect x="195" y="795" width="1" height="1" fill="#000"/>
<rect x="197" y="795" width="1" height="1" fill="#000"/>
<rect x="198" y="795" width="1" height="1" fill="#000"/>
<rect x="199" y="795" width="1" height="1" fill="#000"/>
<rect x="200" y="795" width="1" height="1" fill="#000"/>
<rect x="201" y="795" width="1" height="1" fill="#000"/>
<rect x="202" y="795" width="1" height="1" fill="#000"/>
<rect x="203" y="795" width="1" height="1" fill="#000"/>
<rect x="204" y="795" width="1" height="1" fill="#000"/>
<rect x="205" y="795" width="1" height="1" fill="#000"/>
<rect x="206" y="795" width="1" height="1" fill="#000"/>
<rect x="207" y="795" width="1" height="1" fill="#000"/>
<rect x="209" y="795" width="1" height="1" fill="#000"/>
<rect x="210" y="795" width="1" height="1" fill="#000"/>
<rect x="211" y="795" width="1" height="1" fill="#000"/>
<rect x="212" y="795" width="1" height="1" fill="#000"/>
<rect x="213" y="795" width="1" height="1" fill="#000"/>
<rect x="214" y="795" width="1" height="1" fill="#000"/>
<rect x="215" y="795" width="1" height="1" fill="#000"/>
<rect x="217" y="795" width="1" height="1" fill="#000"/>
<rect x="220" y="795" width="1" height="1" fill="#000"/>
<rect x="221" y="795" width="1" height="1" fill="#000"/>
<rect x="222" y="795" width="1" height="1" fill="#000"/>
<rect x="223" y="795" width="1" height="1" fill="#000"/>
<rect x="226" y="795" width="1" height="1" fill="#000"/>
<rect x="227" y="795" width="1" height="1" fill="#000"/>
<rect x="228" y="795" width="1" height="1" fill="#000"/>
<rect x="229" y="795" width="1" height="1" fill="#000"/>
<rect x="230" y="795" width="1" height="1" fill="#000"/>
<rect x="231" y="795" width="1" height="1" fill="#000"/>
<rect x="232" y="795" width="1" height="1" fill="#000"/>
<rect x="234" y="795" width="1" height="1" fill="#000"/>
<rect x="235" y="795" width="1" height="1" fill="#000"/>
<rect x="236" y="795" width="1" height="1" fill="#000"/>
<rect x="237" y="795" width="1" height="1" fill="#000"/>
<rect x="238" y="795" width="1" height="1" fill="#000"/>
<rect x="239" y="795" width="1" height="1" fill="#000"/>
<rect x="240" y="795" width="1" height="1" fill="#000"/>
<rect x="241" y="795" width="1" height="1" fill="#000"/>
<rect x="242" y="795" width="1" height="1" fill="#000"/>
<rect x="243" y="795" width="1" height="1" fill="#000"/>
<rect x="244" y="795" width="1" height="1" fill="#000"/>
<rect x="245" y="795" width="1" height="1" fill="#000"/>
<rect x="246" y="795" width="1" height="1" fill="#000"/>
<rect x="248" y="795" width="1" height="1" fill="#000"/>
<rect x="249" y="795" width="1" height="1" fill="#000"/>
<rect x="250" y="795" width="1" height="1" fill="#000"/>
<rect x="251" y="795" width="1" height="1" fill="#000"/>
<rect x="252" y="795" width="1" height="1" fill="#000"/>
<rect x="253" y="795" width="1" height="1" fill="#000"/>
<rect x="254" y="795" width="1" height="1" fill="#000"/>
<rect x="255" y="795" width="1" height="1" fill="#000"/>
<rect x="256" y="795" width="1" height="1" fill="#000"/>
<rect x="257" y="795" width="1" height="1" fill="#000"/>
<rect x="258" y="795" width="1" height="1" fill="#000"/>
<rect x="259" y="795" width="1" height="1" fill="#000"/>
<rect x="260" y="795" width="1" height="1" fill="#000"/>
<rect x="261" y="795" width="1" height="1" fill="#000"/>
<rect x="262" y="795" width="1" height="1" fill="#000"/>
<rect x="264" y="795" width="1" height="1" fill="#000"/>
<rect x="265" y="795" width="1" height="1" fill="#000"/>
<rect x="266" y="795" width="1" height="1" fill="#000"/>
<rect x="268" y="795" width="1" height="1" fill="#000"/>
<rect x="269" y="795" width="1" height="1" fill="#000"/>
<rect x="270" y="795" width="1" height="1" fill="#000"/>
<rect x="273" y="795" width="1" height="1" fill="#000"/>
<rect x="274" y="795" width="1" height="1" fill="#000"/>
<rect x="275" y="795" width="1" height="1" fill="#000"/>
<rect x="277" y="795" width="1" height="1" fill="#000"/>
<rect x="278" y="795" width="1" height="1" fill="#000"/>
<rect x="280" y="795" width="1" height="1" fill="#000"/>
<rect x="281" y="795" width="1" height="1" fill="#000"/>
<rect x="282" y="795" width="1" height="1" fill="#000"/>
<rect x="283" y="795" width="1" height="1" fill="#000"/>
<rect x="284" y="795" width="1" height="1" fill="#000"/>
<rect x="285" y="795" width="1" height="1" fill="#000"/>
<rect x="287" y="795" width="1" height="1" fill="#000"/>
<rect x="288" y="795" width="1" height="1" fill="#000"/>
<rect x="290" y="795" width="1" height="1" fill="#000"/>
<rect x="294" y="795" width="1" height="1" fill="#000"/>
<rect x="295" y="795" width="1" height="1" fill="#000"/>
<rect x="296" y="795" width="1" height="1" fill="#000"/>
<rect x="298" y="795" width="1" height="1" fill="#000"/>
<rect x="300" y="795" width="1" height="1" fill="#000"/>
<rect x="301" y="795" width="1" height="1" fill="#000"/>
<rect x="302" y="795" width="1" height="1" fill="#000"/>
<rect x="303" y="795" width="1" height="1" fill="#000"/>
<rect x="304" y="795" width="1" height="1" fill="#000"/>
<rect x="305" y="795" width="1" height="1" fill="#000"/>
<rect x="306" y="795" width="1" height="1" fill="#000"/>
<rect x="307" y="795" width="1" height="1" fill="#000"/>
<rect x="311" y="795" width="1" height="1" fill="#000"/>
<rect x="313" y="795" width="1" height="1" fill="#000"/>
<rect x="315" y="795" width="1" height="1" fill="#000"/>
<rect x="316" y="795" width="1" height="1" fill="#000"/>
<rect x="317" y="795" width="1" height="1" fill="#000"/>
<rect x="318" y="795" width="1" height="1" fill="#000"/>
<rect x="320" y="795" width="1" height="1" fill="#000"/>
<rect x="321" y="795" width="1" height="1" fill="#000"/>
<rect x="322" y="795" width="1" height="1" fill="#000"/>
<rect x="323" y="795" width="1" height="1" fill="#000"/>
<rect x="325" y="795" width="1" height="1" fill="#000"/>
<rect x="328" y="795" width="1" height="1" fill="#000"/>
<rect x="331" y="795" width="1" height="1" fill="#000"/>
<rect x="333" y="795" width="1" height="1" fill="#000"/>
<rect x="335" y="795" width="1" height="1" fill="#000"/>
<rect x="337" y="795" width="1" height="1" fill="#000"/>
<rect x="338" y="795" width="1" height="1" fill="#000"/>
<rect x="339" y="795" width="1" height="1" fill="#000"/>
<rect x="354" y="795" width="1" height="1" fill="#000"/>
<rect x="368" y="795" width="1" height="1" fill="#000"/>
<rect x="371" y="795" width="1" height="1" fill="#000"/>
<rect x="372" y="795" width="1" height="1" fill="#000"/>
<rect x="373" y="795" width="1" height="1" fill="#000"/>
<rect x="375" y="795" width="1" height="1" fill="#000"/>
<rect x="377" y="795" width="1" height="1" fill="#000"/>
<rect x="380" y="795" width="1" height="1" fill="#000"/>
<rect x="381" y="795" width="1" height="1" fill="#000"/>
<rect x="385" y="795" width="1" height="1" fill="#000"/>
<rect x="395" y="795" width="1" height="1" fill="#000"/>
<rect x="397" y="795" width="1" height="1" fill="#000"/>
<rect x="398" y="795" width="1" height="1" fill="#000"/>
<rect x="402" y="795" width="1" height="1" fill="#000"/>
<rect x="403" y="795" width="1" height="1" fill="#000"/>
<rect x="404" y="795" width="1" height="1" fill="#000"/>
<rect x="408" y="795" width="1" height="1" fill="#000"/>
<rect x="409" y="795" width="1" height="1" fill="#000"/>
<rect x="410" y="795" width="1" height="1" fill="#000"/>
<rect x="411" y="795" width="1" height="1" fill="#000"/>
<rect x="412" y="795" width="1" height="1" fill="#000"/>
<rect x="413" y="795" width="1" height="1" fill="#000"/>
<rect x="414" y="795" width="1" height="1" fill="#000"/>
<rect x="415" y="795" width="1" height="1" fill="#000"/>
<rect x="416" y="795" width="1" height="1" fill="#000"/>
<rect x="417" y="795" width="1" height="1" fill="#000"/>
<rect x="418" y="795" width="1" height="1" fill="#000"/>
<rect x="419" y="795" width="1" height="1" fill="#000"/>
<rect x="420" y="795" width="1" height="1" fill="#000"/>
<rect x="421" y="795" width="1" height="1" fill="#000"/>
<rect x="422" y="795" width="1" height="1" fill="#000"/>
<rect x="423" y="795" width="1" height="1" fill="#000"/>
<rect x="424" y="795" width="1" height="1" fill="#000"/>
<rect x="425" y="795" width="1" height="1" fill="#000"/>
<rect x="426" y="795" width="1" height="1" fill="#000"/>
<rect x="427" y="795" width="1" height="1" fill="#000"/>
<rect x="428" y="795" width="1" height="1" fill="#000"/>
<rect x="429" y="795" width="1" height="1" fill="#000"/>
<rect x="430" y="795" width="1" height="1" fill="#000"/>
<rect x="431" y="795" width="1" height="1" fill="#000"/>
<rect x="432" y="795" width="1" height="1" fill="#000"/>
<rect x="433" y="795" width="1" height="1" fill="#000"/>
<rect x="435" y="795" width="1" height="1" fill="#000"/>
<rect x="436" y="795" width="1" height="1" fill="#000"/>
<rect x="437" y="795" width="1" height="1" fill="#000"/>
<rect x="438" y="795" width="1" height="1" fill="#000"/>
<rect x="439" y="795" width="1" height="1" fill="#000"/>
<rect x="442" y="795" width="1" height="1" fill="#000"/>
<rect x="443" y="795" width="1" height="1" fill="#000"/>
<rect x="444" y="795" width="1" height="1" fill="#000"/>
<rect x="446" y="795" width="1" height="1" fill="#000"/>
<rect x="447" y="795" width="1" height="1" fill="#000"/>
<rect x="448" y="795" width="1" height="1" fill="#000"/>
<rect x="449" y="795" width="1" height="1" fill="#000"/>
<rect x="460" y="795" width="1" height="1" fill="#000"/>
<rect x="461" y="795" width="1" height="1" fill="#000"/>
<rect x="469" y="795" width="1" height="1" fill="#000"/>
<rect x="470" y="795" width="1" height="1" fill="#000"/>
<rect x="483" y="795" width="1" height="1" fill="#000"/>
<rect x="148" y="796" width="1" height="1" fill="#0000ff"/>
<rect x="243" y="796" width="1" height="1" fill="#0000ff"/>
<rect x="299" y="796" width="1" height="1" fill="#0000ff"/>
<rect x="300" y="796" width="1" height="1" fill="#0000ff"/>
<defs><linearGradient id="rb" x1="0" y1="0" x2="0" y2="1">
<stop offset="0" stop-color="#000"/><stop offset="0.027" stop-color="#000"/>
<stop offset="0.044" stop-color="#a00000"/><stop offset="0.088" stop-color="#e00000"/>
<stop offset="0.12" stop-color="#ff0000"/><stop offset="0.187" stop-color="#ff4000"/>
<stop offset="0.25" stop-color="#ff8000"/><stop offset="0.32" stop-color="#ffc000"/>
<stop offset="0.37" stop-color="#ffff00"/><stop offset="0.43" stop-color="#c0ff00"/>
<stop offset="0.505" stop-color="#40ff00"/><stop offset="0.57" stop-color="#00f060"/>
<stop offset="0.64" stop-color="#00c0a0"/><stop offset="0.70" stop-color="#0090d0"/>
<stop offset="0.77" stop-color="#0050f0"/><stop offset="0.86" stop-color="#0010ff"/>
<stop offset="0.945" stop-color="#0000c0"/><stop offset="1" stop-color="#000090"/>
</linearGradient></defs>
<rect x="565" y="164" width="12" height="91" fill="#000"/>
<rect x="566" y="165" width="10" height="89" fill="url(#rb)"/>
<text x="565.5" y="160" font-size="10.2" font-family="&quot;Liberation Sans&quot;, sans-serif" fill="#000" text-anchor="start">Log JE</text>
<text x="583.5" y="176" font-size="10.8" font-family="&quot;Liberation Sans&quot;, sans-serif" fill="#000" text-anchor="start">8.1</text>
<text x="583.5" y="204.3" font-size="10.8" font-family="&quot;Liberation Sans&quot;, sans-serif" fill="#000" text-anchor="start">7.2</text>
<text x="583.5" y="232.7" font-size="10.8" font-family="&quot;Liberation Sans&quot;, sans-serif" fill="#000" text-anchor="start">6.3</text>
<text x="583.5" y="261" font-size="10.8" font-family="&quot;Liberation Sans&quot;, sans-serif" fill="#000" text-anchor="start">5.4</text>
<rect x="565" y="296" width="12" height="71" fill="#000"/>
<rect x="566" y="297" width="10" height="69" fill="url(#rb)"/>
<text x="565.5" y="292" font-size="10.2" font-family="&quot;Liberation Sans&quot;, sans-serif" fill="#000" text-anchor="start">Log JE</text>
<text x="583.5" y="306.8" font-size="10.8" font-family="&quot;Liberation Sans&quot;, sans-serif" fill="#000" text-anchor="start">7.5</text>
<text x="583.5" y="329.3" font-size="10.8" font-family="&quot;Liberation Sans&quot;, sans-serif" fill="#000" text-anchor="start">7.2</text>
<text x="583.5" y="352.2" font-size="10.8" font-family="&quot;Liberation Sans&quot;, sans-serif" fill="#000" text-anchor="start">6.8</text>
<text x="583.5" y="374" font-size="10.8" font-family="&quot;Liberation Sans&quot;, sans-serif" fill="#000" text-anchor="start">6.5</text>
<rect x="565" y="409" width="12" height="90" fill="#000"/>
<rect x="566" y="410" width="10" height="88" fill="url(#rb)"/>
<text x="565.5" y="404.3" font-size="10.2" font-family="&quot;Liberation Sans&quot;, sans-serif" fill="#000" text-anchor="start">Log JE</text>
<text x="583.5" y="420.2" font-size="10.8" font-family="&quot;Liberation Sans&quot;, sans-serif" fill="#000" text-anchor="start">7.6</text>
<text x="583.5" y="448.7" font-size="10.8" font-family="&quot;Liberation Sans&quot;, sans-serif" fill="#000" text-anchor="start">6.3</text>
<text x="583.5" y="477.3" font-size="10.8" font-family="&quot;Liberation Sans&quot;, sans-serif" fill="#000" text-anchor="start">4.9</text>
<text x="583.5" y="505.5" font-size="10.8" font-family="&quot;Liberation Sans&quot;, sans-serif" fill="#000" text-anchor="start">3.6</text>
<text x="508.55" y="87" font-size="9.5" font-family="&quot;Liberation Sans&quot;, sans-serif" fill="#0000ff" stroke="#0000ff" stroke-width="0.08" textLength="16.40" lengthAdjust="spacing">des</text>
<text x="529.05" y="87" font-size="9.5" font-family="&quot;Liberation Sans&quot;, sans-serif" fill="#0000ff" stroke="#0000ff" stroke-width="0.08" textLength="16.40" lengthAdjust="spacing">dist</text>
<text x="550.55" y="87" font-size="9.5" font-family="&quot;Liberation Sans&quot;, sans-serif" fill="#0000ff" stroke="#0000ff" stroke-width="0.08" textLength="22.90" lengthAdjust="spacing">burst</text>
<text x="577.55" y="87" font-size="9.5" font-family="&quot;Liberation Sans&quot;, sans-serif" fill="#0000ff" stroke="#0000ff" stroke-width="0.08" textLength="16.90" lengthAdjust="spacing">SC1</text>
<text x="598.55" y="87" font-size="9.5" font-family="&quot;Liberation Sans&quot;, sans-serif" fill="#0000ff" stroke="#0000ff" stroke-width="0.08" textLength="25.90" lengthAdjust="spacing">MMS1</text>
<text x="508.55" y="101.7" font-size="9.5" font-family="&quot;Liberation Sans&quot;, sans-serif" fill="#ff00ff" stroke="#ff00ff" stroke-width="0.08" textLength="16.40" lengthAdjust="spacing">des</text>
<text x="529.05" y="101.7" font-size="9.5" font-family="&quot;Liberation Sans&quot;, sans-serif" fill="#ff00ff" stroke="#ff00ff" stroke-width="0.08" textLength="16.40" lengthAdjust="spacing">dist</text>
<text x="550.55" y="101.7" font-size="9.5" font-family="&quot;Liberation Sans&quot;, sans-serif" fill="#ff00ff" stroke="#ff00ff" stroke-width="0.08" textLength="22.90" lengthAdjust="spacing">burst</text>
<text x="577.55" y="101.7" font-size="9.5" font-family="&quot;Liberation Sans&quot;, sans-serif" fill="#ff00ff" stroke="#ff00ff" stroke-width="0.08" textLength="16.90" lengthAdjust="spacing">SC2</text>
<text x="598.55" y="101.7" font-size="9.5" font-family="&quot;Liberation Sans&quot;, sans-serif" fill="#ff00ff" stroke="#ff00ff" stroke-width="0.08" textLength="25.90" lengthAdjust="spacing">MMS2</text>
<text x="508.55" y="116.3" font-size="9.5" font-family="&quot;Liberation Sans&quot;, sans-serif" fill="#ff0000" stroke="#ff0000" stroke-width="0.08" textLength="16.40" lengthAdjust="spacing">des</text>
<text x="529.05" y="116.3" font-size="9.5" font-family="&quot;Liberation Sans&quot;, sans-serif" fill="#ff0000" stroke="#ff0000" stroke-width="0.08" textLength="16.40" lengthAdjust="spacing">dist</text>
<text x="550.55" y="116.3" font-size="9.5" font-family="&quot;Liberation Sans&quot;, sans-serif" fill="#ff0000" stroke="#ff0000" stroke-width="0.08" textLength="22.90" lengthAdjust="spacing">burst</text>
<text x="577.55" y="116.3" font-size="9.5" font-family="&quot;Liberation Sans&quot;, sans-serif" fill="#ff0000" stroke="#ff0000" stroke-width="0.08" textLength="16.90" lengthAdjust="spacing">SC3</text>
<text x="598.55" y="116.3" font-size="9.5" font-family="&quot;Liberation Sans&quot;, sans-serif" fill="#ff0000" stroke="#ff0000" stroke-width="0.08" textLength="25.90" lengthAdjust="spacing">MMS3</text>
<text x="508.55" y="131" font-size="9.5" font-family="&quot;Liberation Sans&quot;, sans-serif" fill="#00ff00" stroke="#00ff00" stroke-width="0.08" textLength="16.40" lengthAdjust="spacing">des</text>
<text x="529.05" y="131" font-size="9.5" font-family="&quot;Liberation Sans&quot;, sans-serif" fill="#00ff00" stroke="#00ff00" stroke-width="0.08" textLength="16.40" lengthAdjust="spacing">dist</text>
<text x="550.55" y="131" font-size="9.5" font-family="&quot;Liberation Sans&quot;, sans-serif" fill="#00ff00" stroke="#00ff00" stroke-width="0.08" textLength="22.90" lengthAdjust="spacing">burst</text>
<text x="577.55" y="131" font-size="9.5" font-family="&quot;Liberation Sans&quot;, sans-serif" fill="#00ff00" stroke="#00ff00" stroke-width="0.08" textLength="16.90" lengthAdjust="spacing">SC4</text>
<text x="598.55" y="131" font-size="9.5" font-family="&quot;Liberation Sans&quot;, sans-serif" fill="#00ff00" stroke="#00ff00" stroke-width="0.08" textLength="25.90" lengthAdjust="spacing">MMS4</text>
<text x="508.35" y="241" font-size="9.5" font-family="&quot;Liberation Sans&quot;, sans-serif" fill="#000" stroke="#000" stroke-width="0.08" textLength="17.10" lengthAdjust="spacing">edp</text>
<text x="530.55" y="241" font-size="9.5" font-family="&quot;Liberation Sans&quot;, sans-serif" fill="#000" stroke="#000" stroke-width="0.08" textLength="23.90" lengthAdjust="spacing">scpot</text>
<text x="557.55" y="241" font-size="9.5" font-family="&quot;Liberation Sans&quot;, sans-serif" fill="#000" stroke="#000" stroke-width="0.08" textLength="26.70" lengthAdjust="spacing">MMS3</text>
<text x="508.35" y="578" font-size="9.5" font-family="&quot;Liberation Sans&quot;, sans-serif" fill="#000" stroke="#000" stroke-width="0.08" textLength="16.60" lengthAdjust="spacing">des</text>
<text x="529.05" y="578" font-size="9.5" font-family="&quot;Liberation Sans&quot;, sans-serif" fill="#000" stroke="#000" stroke-width="0.08" textLength="68.40" lengthAdjust="spacing">numberdensity</text>
<text x="601.55" y="578" font-size="9.5" font-family="&quot;Liberation Sans&quot;, sans-serif" fill="#000" stroke="#000" stroke-width="0.08" textLength="17.90" lengthAdjust="spacing">fast</text>
<text x="622.55" y="578" font-size="9.5" font-family="&quot;Liberation Sans&quot;, sans-serif" fill="#000" stroke="#000" stroke-width="0.08">M</text>
<text x="507.55" y="654" font-size="9.5" font-family="&quot;Liberation Sans&quot;, sans-serif" fill="#ff0000" stroke="#ff0000" stroke-width="0.08" textLength="17.90" lengthAdjust="spacing">fgm</text>
<text x="531.55" y="654" font-size="9.5" font-family="&quot;Liberation Sans&quot;, sans-serif" fill="#ff0000" stroke="#ff0000" stroke-width="0.08">bx</text>
<text x="547.55" y="654" font-size="9.5" font-family="&quot;Liberation Sans&quot;, sans-serif" fill="#ff0000" stroke="#ff0000" stroke-width="0.08" textLength="14.70" lengthAdjust="spacing">gse</text>
<text x="567.55" y="654" font-size="9.5" font-family="&quot;Liberation Sans&quot;, sans-serif" fill="#ff0000" stroke="#ff0000" stroke-width="0.08" textLength="18.40" lengthAdjust="spacing">srvy</text>
<text x="591.05" y="654" font-size="9.5" font-family="&quot;Liberation Sans&quot;, sans-serif" fill="#ff0000" stroke="#ff0000" stroke-width="0.08">l2</text>
<text x="602.55" y="654" font-size="9.5" font-family="&quot;Liberation Sans&quot;, sans-serif" fill="#ff0000" stroke="#ff0000" stroke-width="0.08" textLength="25.90" lengthAdjust="spacing">MMS3</text>
<text x="507.55" y="678" font-size="9.5" font-family="&quot;Liberation Sans&quot;, sans-serif" fill="#00ff00" stroke="#00ff00" stroke-width="0.08" textLength="17.90" lengthAdjust="spacing">fgm</text>
<text x="531.55" y="678" font-size="9.5" font-family="&quot;Liberation Sans&quot;, sans-serif" fill="#00ff00" stroke="#00ff00" stroke-width="0.08">by</text>
<text x="547.55" y="678" font-size="9.5" font-family="&quot;Liberation Sans&quot;, sans-serif" fill="#00ff00" stroke="#00ff00" stroke-width="0.08" textLength="14.70" lengthAdjust="spacing">gse</text>
<text x="567.55" y="678" font-size="9.5" font-family="&quot;Liberation Sans&quot;, sans-serif" fill="#00ff00" stroke="#00ff00" stroke-width="0.08" textLength="18.40" lengthAdjust="spacing">srvy</text>
<text x="591.05" y="678" font-size="9.5" font-family="&quot;Liberation Sans&quot;, sans-serif" fill="#00ff00" stroke="#00ff00" stroke-width="0.08">l2</text>
<text x="602.55" y="678" font-size="9.5" font-family="&quot;Liberation Sans&quot;, sans-serif" fill="#00ff00" stroke="#00ff00" stroke-width="0.08" textLength="25.90" lengthAdjust="spacing">MMS3</text>
<text x="507.55" y="703" font-size="9.5" font-family="&quot;Liberation Sans&quot;, sans-serif" fill="#0000ff" stroke="#0000ff" stroke-width="0.08" textLength="17.90" lengthAdjust="spacing">fgm</text>
<text x="531.55" y="703" font-size="9.5" font-family="&quot;Liberation Sans&quot;, sans-serif" fill="#0000ff" stroke="#0000ff" stroke-width="0.08">bz</text>
<text x="547.55" y="703" font-size="9.5" font-family="&quot;Liberation Sans&quot;, sans-serif" fill="#0000ff" stroke="#0000ff" stroke-width="0.08" textLength="14.70" lengthAdjust="spacing">gse</text>
<text x="567.55" y="703" font-size="9.5" font-family="&quot;Liberation Sans&quot;, sans-serif" fill="#0000ff" stroke="#0000ff" stroke-width="0.08" textLength="18.40" lengthAdjust="spacing">srvy</text>
<text x="591.05" y="703" font-size="9.5" font-family="&quot;Liberation Sans&quot;, sans-serif" fill="#0000ff" stroke="#0000ff" stroke-width="0.08">l2</text>
<text x="602.55" y="703" font-size="9.5" font-family="&quot;Liberation Sans&quot;, sans-serif" fill="#0000ff" stroke="#0000ff" stroke-width="0.08" textLength="25.90" lengthAdjust="spacing">MMS3</text>
<text x="507.55" y="727" font-size="9.5" font-family="&quot;Liberation Sans&quot;, sans-serif" fill="#000000" stroke="#000000" stroke-width="0.08" textLength="17.90" lengthAdjust="spacing">fgm</text>
<text x="531.55" y="727" font-size="9.5" font-family="&quot;Liberation Sans&quot;, sans-serif" fill="#000000" stroke="#000000" stroke-width="0.08">bt</text>
<text x="547.55" y="727" font-size="9.5" font-family="&quot;Liberation Sans&quot;, sans-serif" fill="#000000" stroke="#000000" stroke-width="0.08" textLength="14.70" lengthAdjust="spacing">gse</text>
<text x="567.55" y="727" font-size="9.5" font-family="&quot;Liberation Sans&quot;, sans-serif" fill="#000000" stroke="#000000" stroke-width="0.08" textLength="18.40" lengthAdjust="spacing">srvy</text>
<text x="591.05" y="727" font-size="9.5" font-family="&quot;Liberation Sans&quot;, sans-serif" fill="#000000" stroke="#000000" stroke-width="0.08">l2</text>
<text x="602.55" y="727" font-size="9.5" font-family="&quot;Liberation Sans&quot;, sans-serif" fill="#000000" stroke="#000000" stroke-width="0.08" textLength="25.90" lengthAdjust="spacing">MMS3</text>
<text x="507.55" y="766" font-size="9.5" font-family="&quot;Liberation Sans&quot;, sans-serif" fill="#ff0000" stroke="#ff0000" stroke-width="0.08">Jx</text>
<text x="521.05" y="766" font-size="9.5" font-family="&quot;Liberation Sans&quot;, sans-serif" fill="#ff0000" stroke="#ff0000" stroke-width="0.08" textLength="14.90" lengthAdjust="spacing">gse</text>
<text x="541.55" y="766" font-size="9.5" font-family="&quot;Liberation Sans&quot;, sans-serif" fill="#ff0000" stroke="#ff0000" stroke-width="0.08">A</text>
<text x="552.55" y="766" font-size="9.5" font-family="&quot;Liberation Sans&quot;, sans-serif" fill="#ff0000" stroke="#ff0000" stroke-width="0.08">m2</text>
<text x="570.55" y="766" font-size="9.5" font-family="&quot;Liberation Sans&quot;, sans-serif" fill="#ff0000" stroke="#ff0000" stroke-width="0.08" textLength="25.40" lengthAdjust="spacing">MMS3</text>
<text x="507.55" y="791" font-size="9.5" font-family="&quot;Liberation Sans&quot;, sans-serif" fill="#00ff00" stroke="#00ff00" stroke-width="0.08">Jy</text>
<text x="521.05" y="791" font-size="9.5" font-family="&quot;Liberation Sans&quot;, sans-serif" fill="#00ff00" stroke="#00ff00" stroke-width="0.08" textLength="14.90" lengthAdjust="spacing">gse</text>
<text x="541.55" y="791" font-size="9.5" font-family="&quot;Liberation Sans&quot;, sans-serif" fill="#00ff00" stroke="#00ff00" stroke-width="0.08">A</text>
<text x="552.55" y="791" font-size="9.5" font-family="&quot;Liberation Sans&quot;, sans-serif" fill="#00ff00" stroke="#00ff00" stroke-width="0.08">m2</text>
<text x="570.55" y="791" font-size="9.5" font-family="&quot;Liberation Sans&quot;, sans-serif" fill="#00ff00" stroke="#00ff00" stroke-width="0.08" textLength="25.40" lengthAdjust="spacing">MMS3</text>
<text x="507.55" y="815" font-size="9.5" font-family="&quot;Liberation Sans&quot;, sans-serif" fill="#0000ff" stroke="#0000ff" stroke-width="0.08">Jz</text>
<text x="521.05" y="815" font-size="9.5" font-family="&quot;Liberation Sans&quot;, sans-serif" fill="#0000ff" stroke="#0000ff" stroke-width="0.08" textLength="14.90" lengthAdjust="spacing">gse</text>
<text x="541.55" y="815" font-size="9.5" font-family="&quot;Liberation Sans&quot;, sans-serif" fill="#0000ff" stroke="#0000ff" stroke-width="0.08">A</text>
<text x="552.55" y="815" font-size="9.5" font-family="&quot;Liberation Sans&quot;, sans-serif" fill="#0000ff" stroke="#0000ff" stroke-width="0.08">m2</text>
<text x="570.55" y="815" font-size="9.5" font-family="&quot;Liberation Sans&quot;, sans-serif" fill="#0000ff" stroke="#0000ff" stroke-width="0.08" textLength="25.40" lengthAdjust="spacing">MMS3</text>
<text x="507.55" y="840" font-size="9.5" font-family="&quot;Liberation Sans&quot;, sans-serif" fill="#000" stroke="#000" stroke-width="0.08">J</text>
<text x="515.55" y="840" font-size="9.5" font-family="&quot;Liberation Sans&quot;, sans-serif" fill="#000" stroke="#000" stroke-width="0.08">A</text>
<text x="526.55" y="840" font-size="9.5" font-family="&quot;Liberation Sans&quot;, sans-serif" fill="#000" stroke="#000" stroke-width="0.08">m2</text>
<text x="544.55" y="840" font-size="9.5" font-family="&quot;Liberation Sans&quot;, sans-serif" fill="#000" stroke="#000" stroke-width="0.08" textLength="25.40" lengthAdjust="spacing">MMS3</text>
<text x="515.5" y="208.5" font-size="10" font-family="&quot;Liberation Sans&quot;, sans-serif" fill="#000" text-anchor="start" letter-spacing="0.6">DES</text>
<text x="512" y="267.8" font-size="10" font-family="&quot;Liberation Sans&quot;, sans-serif" fill="#000" text-anchor="start">MMS3</text>
<text x="515.5" y="314.7" font-size="10" font-family="&quot;Liberation Sans&quot;, sans-serif" fill="#000" text-anchor="start" letter-spacing="0.6">DES</text>
<text x="512" y="348" font-size="10" font-family="&quot;Liberation Sans&quot;, sans-serif" fill="#000" text-anchor="start">MMS3</text>
<text x="496.3" y="379.3" font-size="10" font-family="&quot;Liberation Sans&quot;, sans-serif" fill="#000" text-anchor="start" letter-spacing="0.6">140-167 eV</text>
<text x="517.3" y="453.4" font-size="10" font-family="&quot;Liberation Sans&quot;, sans-serif" fill="#000" text-anchor="start" letter-spacing="0.6">DIS</text>
<text x="512" y="512" font-size="10" font-family="&quot;Liberation Sans&quot;, sans-serif" fill="#000" text-anchor="start">MMS3</text>
<text transform="translate(29,205.3) rotate(-90)" font-size="10.5" font-family="&quot;Liberation Sans&quot;, sans-serif" text-anchor="middle">E (eV)</text>
<text transform="translate(29,325.2) rotate(-90)" font-size="10.5" font-family="&quot;Liberation Sans&quot;, sans-serif" text-anchor="middle">a (deg)</text>
<text transform="translate(29,449.2) rotate(-90)" font-size="10.5" font-family="&quot;Liberation Sans&quot;, sans-serif" text-anchor="middle">E (eV)</text>
<text transform="translate(29,570) rotate(-90)" font-size="10.5" font-family="&quot;Liberation Sans&quot;, sans-serif" text-anchor="middle">(cm^-3)</text>
<text transform="translate(29,682) rotate(-90)" font-size="10.5" font-family="&quot;Liberation Sans&quot;, sans-serif" text-anchor="middle">(nT)</text>
<text transform="translate(29,794) rotate(-90)" font-size="10.5" font-family="&quot;Liberation Sans&quot;, sans-serif" text-anchor="middle">(A/m2)</text>
<text x="110.0" y="865" font-size="11" font-family="&quot;Liberation Sans&quot;, sans-serif" fill="#000" text-anchor="middle">00:00</text>
<text x="172.8" y="865" font-size="11" font-family="&quot;Liberation Sans&quot;, sans-serif" fill="#000" text-anchor="middle">02:00</text>
<text x="235.7" y="865" font-size="11" font-family="&quot;Liberation Sans&quot;, sans-serif" fill="#000" text-anchor="middle">04:00</text>
<text x="298.5" y="865" font-size="11" font-family="&quot;Liberation Sans&quot;, sans-serif" fill="#000" text-anchor="middle">06:00</text>
<text x="361.3" y="865" font-size="11" font-family="&quot;Liberation Sans&quot;, sans-serif" fill="#000" text-anchor="middle">08:00</text>
<text x="424.2" y="865" font-size="11" font-family="&quot;Liberation Sans&quot;, sans-serif" fill="#000" text-anchor="middle">10:00</text>
<text x="487.0" y="865" font-size="11" font-family="&quot;Liberation Sans&quot;, sans-serif" fill="#000" text-anchor="middle">12:00</text>
<text x="102.6" y="929" font-size="11" font-family="&quot;Liberation Sans&quot;, sans-serif" fill="#000" text-anchor="start">Produced by cl (IRAP)</text>
<text x="222.6" y="929" font-size="11" font-family="&quot;Liberation Sans&quot;, sans-serif" fill="#000" text-anchor="start" letter-spacing="0.25">Printing date: 02/Apr/2025</text>
<text x="369" y="929" font-size="11" font-family="&quot;Liberation Sans&quot;, sans-serif" fill="#000" text-anchor="start" letter-spacing="0.12">mms_mms3_srvy_vue_web1.cl</text>
</svg></body></html>
